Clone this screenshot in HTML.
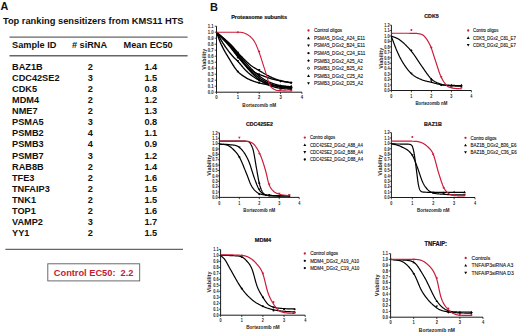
<!DOCTYPE html>
<html><head><meta charset="utf-8"><style>
html,body{margin:0;padding:0;background:#fff;}
svg{display:block;}
text{font-family:"Liberation Sans",sans-serif;}
</style></head><body>
<svg width="520" height="335" viewBox="0 0 520 335" font-family="Liberation Sans, sans-serif">
<rect width="520" height="335" fill="#fff"/>
<text x="0.4" y="9.9" font-weight="bold" font-size="10.8" fill="#111">A</text>
<text x="2.90" y="24.00" font-size="9.3" font-weight="bold" fill="#111">Top ranking sensitizers from KMS11 HTS</text>
<path d="M9.5,37.1H187.6" stroke="#666" stroke-width="1.4"/>
<path d="M9.5,55.8H187.6" stroke="#666" stroke-width="1.4"/>
<text x="12.00" y="47.50" font-size="9.2" font-weight="bold" fill="#111">Sample ID</text>
<text x="71.90" y="47.50" font-size="9.2" font-weight="bold" fill="#111"># siRNA</text>
<text x="123.60" y="47.50" font-size="9.2" font-weight="bold" fill="#111">Mean EC50</text>
<text x="12.00" y="69.50" font-size="9.2" font-weight="bold" fill="#111">BAZ1B</text>
<text x="90.30" y="69.50" font-size="9.2" text-anchor="middle" font-weight="bold" fill="#111">2</text>
<text x="150.80" y="69.50" font-size="9.2" text-anchor="middle" font-weight="bold" fill="#111">1.4</text>
<text x="12.00" y="80.63" font-size="9.2" font-weight="bold" fill="#111">CDC42SE2</text>
<text x="90.30" y="80.63" font-size="9.2" text-anchor="middle" font-weight="bold" fill="#111">3</text>
<text x="150.80" y="80.63" font-size="9.2" text-anchor="middle" font-weight="bold" fill="#111">1.5</text>
<text x="12.00" y="91.76" font-size="9.2" font-weight="bold" fill="#111">CDK5</text>
<text x="90.30" y="91.76" font-size="9.2" text-anchor="middle" font-weight="bold" fill="#111">2</text>
<text x="150.80" y="91.76" font-size="9.2" text-anchor="middle" font-weight="bold" fill="#111">0.8</text>
<text x="12.00" y="102.89" font-size="9.2" font-weight="bold" fill="#111">MDM4</text>
<text x="90.30" y="102.89" font-size="9.2" text-anchor="middle" font-weight="bold" fill="#111">2</text>
<text x="150.80" y="102.89" font-size="9.2" text-anchor="middle" font-weight="bold" fill="#111">1.2</text>
<text x="12.00" y="114.02" font-size="9.2" font-weight="bold" fill="#111">NME7</text>
<text x="90.30" y="114.02" font-size="9.2" text-anchor="middle" font-weight="bold" fill="#111">2</text>
<text x="150.80" y="114.02" font-size="9.2" text-anchor="middle" font-weight="bold" fill="#111">1.3</text>
<text x="12.00" y="125.15" font-size="9.2" font-weight="bold" fill="#111">PSMA5</text>
<text x="90.30" y="125.15" font-size="9.2" text-anchor="middle" font-weight="bold" fill="#111">3</text>
<text x="150.80" y="125.15" font-size="9.2" text-anchor="middle" font-weight="bold" fill="#111">0.8</text>
<text x="12.00" y="136.28" font-size="9.2" font-weight="bold" fill="#111">PSMB2</text>
<text x="90.30" y="136.28" font-size="9.2" text-anchor="middle" font-weight="bold" fill="#111">4</text>
<text x="150.80" y="136.28" font-size="9.2" text-anchor="middle" font-weight="bold" fill="#111">1.1</text>
<text x="12.00" y="147.41" font-size="9.2" font-weight="bold" fill="#111">PSMB3</text>
<text x="90.30" y="147.41" font-size="9.2" text-anchor="middle" font-weight="bold" fill="#111">4</text>
<text x="150.80" y="147.41" font-size="9.2" text-anchor="middle" font-weight="bold" fill="#111">0.9</text>
<text x="12.00" y="158.54" font-size="9.2" font-weight="bold" fill="#111">PSMB7</text>
<text x="90.30" y="158.54" font-size="9.2" text-anchor="middle" font-weight="bold" fill="#111">3</text>
<text x="150.80" y="158.54" font-size="9.2" text-anchor="middle" font-weight="bold" fill="#111">1.2</text>
<text x="12.00" y="169.67" font-size="9.2" font-weight="bold" fill="#111">RAB8B</text>
<text x="90.30" y="169.67" font-size="9.2" text-anchor="middle" font-weight="bold" fill="#111">2</text>
<text x="150.80" y="169.67" font-size="9.2" text-anchor="middle" font-weight="bold" fill="#111">1.4</text>
<text x="12.00" y="180.80" font-size="9.2" font-weight="bold" fill="#111">TFE3</text>
<text x="90.30" y="180.80" font-size="9.2" text-anchor="middle" font-weight="bold" fill="#111">2</text>
<text x="150.80" y="180.80" font-size="9.2" text-anchor="middle" font-weight="bold" fill="#111">1.6</text>
<text x="12.00" y="191.93" font-size="9.2" font-weight="bold" fill="#111">TNFAIP3</text>
<text x="90.30" y="191.93" font-size="9.2" text-anchor="middle" font-weight="bold" fill="#111">2</text>
<text x="150.80" y="191.93" font-size="9.2" text-anchor="middle" font-weight="bold" fill="#111">1.5</text>
<text x="12.00" y="203.06" font-size="9.2" font-weight="bold" fill="#111">TNK1</text>
<text x="90.30" y="203.06" font-size="9.2" text-anchor="middle" font-weight="bold" fill="#111">2</text>
<text x="150.80" y="203.06" font-size="9.2" text-anchor="middle" font-weight="bold" fill="#111">1.5</text>
<text x="12.00" y="214.19" font-size="9.2" font-weight="bold" fill="#111">TOP1</text>
<text x="90.30" y="214.19" font-size="9.2" text-anchor="middle" font-weight="bold" fill="#111">2</text>
<text x="150.80" y="214.19" font-size="9.2" text-anchor="middle" font-weight="bold" fill="#111">1.6</text>
<text x="12.00" y="225.32" font-size="9.2" font-weight="bold" fill="#111">VAMP2</text>
<text x="90.30" y="225.32" font-size="9.2" text-anchor="middle" font-weight="bold" fill="#111">3</text>
<text x="150.80" y="225.32" font-size="9.2" text-anchor="middle" font-weight="bold" fill="#111">1.7</text>
<text x="12.00" y="236.45" font-size="9.2" font-weight="bold" fill="#111">YY1</text>
<text x="90.30" y="236.45" font-size="9.2" text-anchor="middle" font-weight="bold" fill="#111">2</text>
<text x="150.80" y="236.45" font-size="9.2" text-anchor="middle" font-weight="bold" fill="#111">1.5</text>
<path d="M5.4,249.4H183" stroke="#666" stroke-width="1.4"/>
<rect x="47.8" y="263.8" width="91.9" height="17.1" fill="none" stroke="#5a5a5a" stroke-width="0.9"/>
<text x="53.80" y="275.60" font-size="9.25" font-weight="bold" fill="#c01c34">Control EC50:&#160;&#160;2.2</text>
<text x="209.9" y="10.6" font-weight="bold" font-size="11" fill="#111">B</text>
<g transform="translate(259.10,18.50) scale(1,1.1)"><text font-size="5.5" text-anchor="middle" font-weight="bold" fill="#111" stroke="#111" stroke-width="0.18">Proteasome subunits</text></g>
<path d="M216.50,26.20 V92.20 H301.90" fill="none" stroke="#000" stroke-width="0.9"/>
<path d="M214.70,92.20H216.5" stroke="#000" stroke-width="0.7"/>
<g transform="translate(213.70,94.09) scale(1,1.25)"><text font-size="4.2" text-anchor="end" font-weight="bold" fill="#222">0.0</text></g>
<path d="M214.70,86.20H216.5" stroke="#000" stroke-width="0.7"/>
<g transform="translate(213.70,88.09) scale(1,1.25)"><text font-size="4.2" text-anchor="end" font-weight="bold" fill="#222">0.1</text></g>
<path d="M214.70,80.20H216.5" stroke="#000" stroke-width="0.7"/>
<g transform="translate(213.70,82.09) scale(1,1.25)"><text font-size="4.2" text-anchor="end" font-weight="bold" fill="#222">0.2</text></g>
<path d="M214.70,74.20H216.5" stroke="#000" stroke-width="0.7"/>
<g transform="translate(213.70,76.09) scale(1,1.25)"><text font-size="4.2" text-anchor="end" font-weight="bold" fill="#222">0.3</text></g>
<path d="M214.70,68.20H216.5" stroke="#000" stroke-width="0.7"/>
<g transform="translate(213.70,70.09) scale(1,1.25)"><text font-size="4.2" text-anchor="end" font-weight="bold" fill="#222">0.4</text></g>
<path d="M214.70,62.20H216.5" stroke="#000" stroke-width="0.7"/>
<g transform="translate(213.70,64.09) scale(1,1.25)"><text font-size="4.2" text-anchor="end" font-weight="bold" fill="#222">0.5</text></g>
<path d="M214.70,56.20H216.5" stroke="#000" stroke-width="0.7"/>
<g transform="translate(213.70,58.09) scale(1,1.25)"><text font-size="4.2" text-anchor="end" font-weight="bold" fill="#222">0.6</text></g>
<path d="M214.70,50.20H216.5" stroke="#000" stroke-width="0.7"/>
<g transform="translate(213.70,52.09) scale(1,1.25)"><text font-size="4.2" text-anchor="end" font-weight="bold" fill="#222">0.7</text></g>
<path d="M214.70,44.20H216.5" stroke="#000" stroke-width="0.7"/>
<g transform="translate(213.70,46.09) scale(1,1.25)"><text font-size="4.2" text-anchor="end" font-weight="bold" fill="#222">0.8</text></g>
<path d="M214.70,38.20H216.5" stroke="#000" stroke-width="0.7"/>
<g transform="translate(213.70,40.09) scale(1,1.25)"><text font-size="4.2" text-anchor="end" font-weight="bold" fill="#222">0.9</text></g>
<path d="M214.70,32.20H216.5" stroke="#000" stroke-width="0.7"/>
<g transform="translate(213.70,34.09) scale(1,1.25)"><text font-size="4.2" text-anchor="end" font-weight="bold" fill="#222">1.0</text></g>
<path d="M214.70,26.20H216.5" stroke="#000" stroke-width="0.7"/>
<g transform="translate(213.70,28.09) scale(1,1.25)"><text font-size="4.2" text-anchor="end" font-weight="bold" fill="#222">1.1</text></g>
<path d="M216.50,92.2V94.00" stroke="#000" stroke-width="0.7"/>
<g transform="translate(216.50,99.39) scale(1,1.25)"><text font-size="4.2" text-anchor="middle" font-weight="bold" fill="#222">0</text></g>
<path d="M237.85,92.2V94.00" stroke="#000" stroke-width="0.7"/>
<g transform="translate(237.85,99.39) scale(1,1.25)"><text font-size="4.2" text-anchor="middle" font-weight="bold" fill="#222">1</text></g>
<path d="M259.20,92.2V94.00" stroke="#000" stroke-width="0.7"/>
<g transform="translate(259.20,99.39) scale(1,1.25)"><text font-size="4.2" text-anchor="middle" font-weight="bold" fill="#222">2</text></g>
<path d="M280.55,92.2V94.00" stroke="#000" stroke-width="0.7"/>
<g transform="translate(280.55,99.39) scale(1,1.25)"><text font-size="4.2" text-anchor="middle" font-weight="bold" fill="#222">3</text></g>
<path d="M301.90,92.2V94.00" stroke="#000" stroke-width="0.7"/>
<g transform="translate(301.90,99.39) scale(1,1.25)"><text font-size="4.2" text-anchor="middle" font-weight="bold" fill="#222">4</text></g>
<g transform="translate(259.20,106.50) scale(1,1.1)"><text font-size="4.7" text-anchor="middle" font-weight="bold" fill="#222">Bortezomib nM</text></g>
<g transform="translate(206.20,59.30) rotate(-90) scale(1,1.0)"><text font-size="5.5" text-anchor="middle" font-weight="bold" fill="#222">Viability</text></g>
<path d="M216.50,32.20 L216.66,32.63 L216.82,33.06 L216.98,33.49 L217.14,33.93 L217.30,34.36 L217.46,34.80 L217.62,35.24 L217.78,35.68 L217.94,36.12 L218.10,36.56 L218.26,37.00 L218.42,37.44 L218.58,37.88 L218.74,38.31 L218.90,38.74 L219.06,39.17 L219.22,39.59 L219.38,40.01 L219.54,40.42 L219.70,40.83 L219.86,41.23 L220.02,41.63 L220.18,42.02 L220.34,42.40 L220.49,42.75 L220.65,43.10 L220.80,43.45 L220.95,43.79 L221.10,44.12 L221.25,44.46 L221.40,44.78 L221.55,45.11 L221.70,45.43 L221.86,45.74 L222.01,46.06 L222.16,46.37 L222.31,46.67 L222.46,46.98 L222.61,47.28 L222.76,47.58 L222.91,47.87 L223.07,48.17 L223.22,48.46 L223.37,48.75 L223.52,49.04 L223.67,49.33 L223.82,49.61 L223.97,49.90 L224.14,50.22 L224.31,50.53 L224.48,50.84 L224.65,51.14 L224.82,51.45 L224.99,51.74 L225.16,52.04 L225.32,52.33 L225.49,52.62 L225.66,52.91 L225.83,53.20 L226.00,53.48 L226.17,53.77 L226.34,54.05 L226.51,54.33 L226.68,54.60 L226.85,54.88 L227.01,55.16 L227.18,55.43 L227.35,55.71 L227.52,55.98 L227.69,56.25 L227.86,56.53 L228.03,56.80 L228.40,57.41 L228.78,58.02 L229.15,58.64 L229.52,59.26 L229.90,59.89 L230.27,60.51 L230.64,61.14 L231.02,61.76 L231.39,62.38 L231.77,63.00 L232.14,63.61 L232.51,64.21 L232.89,64.81 L233.26,65.40 L233.63,65.98 L234.01,66.56 L234.38,67.11 L234.75,67.66 L235.13,68.19 L235.50,68.71 L235.88,69.21 L236.25,69.69 L236.62,70.16 L237.00,70.60 L237.38,71.04 L237.76,71.45 L238.14,71.85 L238.53,72.24 L238.91,72.61 L239.29,72.97 L239.67,73.31 L240.06,73.64 L240.44,73.95 L240.82,74.26 L241.20,74.56 L241.59,74.84 L241.97,75.12 L242.35,75.39 L242.73,75.65 L243.12,75.90 L243.50,76.15 L243.88,76.40 L244.26,76.64 L244.65,76.87 L245.03,77.11 L245.41,77.34 L245.79,77.57 L246.18,77.80 L246.62,78.06 L247.07,78.32 L247.51,78.56 L247.96,78.80 L248.40,79.03 L248.85,79.25 L249.29,79.46 L249.73,79.67 L250.18,79.87 L250.62,80.07 L251.07,80.25 L251.51,80.43 L251.96,80.61 L252.40,80.78 L252.85,80.95 L253.29,81.11 L253.74,81.27 L254.18,81.43 L254.63,81.58 L255.07,81.73 L255.52,81.87 L255.96,82.02 L256.41,82.16 L256.85,82.30 L257.39,82.47 L257.94,82.63 L258.48,82.78 L259.02,82.93 L259.56,83.07 L260.11,83.20 L260.65,83.33 L261.19,83.45 L261.74,83.57 L262.28,83.69 L262.82,83.80 L263.36,83.90 L263.91,84.00 L264.45,84.10 L264.99,84.20 L265.53,84.29 L266.08,84.39 L266.62,84.48 L267.16,84.57 L267.70,84.65 L268.25,84.74 L268.79,84.83 L269.33,84.91 L269.88,85.00 L270.32,85.07 L270.76,85.14 L271.21,85.20 L271.65,85.27 L272.10,85.33 L272.54,85.39 L272.99,85.44 L273.43,85.50 L273.88,85.55 L274.32,85.60 L274.77,85.65 L275.21,85.70 L275.66,85.75 L276.10,85.79 L276.55,85.84 L276.99,85.88 L277.44,85.92 L277.88,85.97 L278.33,86.01 L278.77,86.05 L279.22,86.09 L279.66,86.12 L280.11,86.16 L280.55,86.20 L280.99,86.24 L281.44,86.27 L281.88,86.30 L282.33,86.33 L282.77,86.36 L283.22,86.39 L283.66,86.42 L284.11,86.44 L284.55,86.47 L285.00,86.49 L285.44,86.52 L285.89,86.54 L286.33,86.56 L286.78,86.58 L287.22,86.60 L287.67,86.62 L288.11,86.64 L288.56,86.66 L289.00,86.69 L289.45,86.71 L289.89,86.73 L290.34,86.75 L290.78,86.78 L291.23,86.80" fill="none" stroke="#000" stroke-width="1.35" stroke-linejoin="round"/>
<path d="M237.85,69.95 L239.10,72.14 L236.60,72.14Z" fill="#000"/>
<path d="M259.20,81.35 L260.45,83.54 L257.95,83.54Z" fill="#000"/>
<path d="M280.55,84.95 L281.80,87.14 L279.30,87.14Z" fill="#000"/>
<path d="M291.23,85.55 L292.48,87.74 L289.98,87.74Z" fill="#000"/>
<path d="M216.50,32.20 L216.85,32.78 L217.19,33.36 L217.54,33.95 L217.89,34.54 L218.23,35.13 L218.58,35.73 L218.93,36.32 L219.28,36.92 L219.62,37.52 L219.97,38.11 L220.32,38.71 L220.66,39.30 L221.01,39.89 L221.36,40.48 L221.70,41.06 L222.05,41.64 L222.40,42.21 L222.74,42.78 L223.09,43.33 L223.44,43.89 L223.79,44.43 L224.13,44.96 L224.48,45.49 L224.83,46.00 L225.20,46.54 L225.57,47.08 L225.95,47.61 L226.32,48.14 L226.69,48.65 L227.07,49.16 L227.44,49.67 L227.82,50.17 L228.19,50.66 L228.56,51.15 L228.94,51.63 L229.31,52.10 L229.68,52.57 L230.06,53.04 L230.43,53.50 L230.80,53.95 L231.18,54.40 L231.55,54.84 L231.93,55.28 L232.30,55.71 L232.67,56.14 L233.05,56.57 L233.42,56.99 L233.79,57.40 L233.93,57.54 L234.06,57.69 L234.19,57.82 L234.33,57.95 L234.46,58.08 L234.59,58.21 L234.73,58.33 L234.86,58.46 L234.99,58.58 L235.13,58.69 L235.26,58.81 L235.39,58.93 L235.53,59.04 L235.66,59.16 L235.80,59.28 L235.93,59.39 L236.06,59.51 L236.20,59.63 L236.33,59.75 L236.46,59.88 L236.60,60.00 L236.73,60.13 L236.86,60.26 L237.00,60.40 L237.37,60.79 L237.74,61.20 L238.12,61.61 L238.49,62.03 L238.86,62.46 L239.24,62.89 L239.61,63.33 L239.99,63.78 L240.36,64.22 L240.73,64.67 L241.11,65.12 L241.48,65.58 L241.85,66.02 L242.23,66.47 L242.60,66.92 L242.97,67.36 L243.35,67.79 L243.72,68.22 L244.09,68.64 L244.47,69.05 L244.84,69.46 L245.22,69.85 L245.59,70.23 L245.96,70.60 L246.34,70.96 L246.71,71.31 L247.08,71.66 L247.46,72.01 L247.83,72.34 L248.20,72.68 L248.58,73.00 L248.95,73.33 L249.33,73.64 L249.70,73.95 L250.07,74.26 L250.45,74.56 L250.82,74.86 L251.19,75.15 L251.57,75.44 L251.94,75.72 L252.31,75.99 L252.69,76.27 L253.06,76.53 L253.44,76.80 L253.81,77.05 L254.18,77.31 L254.56,77.56 L254.93,77.80 L255.29,78.03 L255.64,78.25 L256.00,78.46 L256.35,78.67 L256.71,78.87 L257.06,79.06 L257.42,79.26 L257.78,79.44 L258.13,79.62 L258.49,79.80 L258.84,79.97 L259.20,80.14 L259.56,80.31 L259.91,80.47 L260.27,80.63 L260.62,80.79 L260.98,80.94 L261.34,81.10 L261.69,81.25 L262.05,81.40 L262.40,81.55 L262.76,81.70 L263.11,81.85 L263.47,82.00 L263.83,82.15 L264.18,82.30 L264.54,82.44 L264.89,82.58 L265.25,82.72 L265.61,82.86 L265.96,83.00 L266.32,83.13 L266.67,83.27 L267.03,83.40 L267.38,83.52 L267.74,83.65 L268.10,83.77 L268.45,83.90 L268.81,84.02 L269.16,84.13 L269.52,84.25 L269.88,84.36 L270.23,84.47 L270.59,84.58 L270.94,84.69 L271.30,84.80 L271.65,84.90 L272.01,85.00 L272.37,85.10 L272.72,85.19 L273.08,85.29 L273.43,85.38 L273.79,85.46 L274.14,85.55 L274.50,85.63 L274.86,85.71 L275.21,85.79 L275.57,85.87 L275.92,85.94 L276.28,86.01 L276.64,86.08 L276.99,86.15 L277.35,86.22 L277.70,86.29 L278.06,86.36 L278.42,86.42 L278.77,86.48 L279.13,86.55 L279.48,86.61 L279.84,86.67 L280.19,86.74 L280.55,86.80 L280.99,86.88 L281.44,86.95 L281.88,87.02 L282.33,87.09 L282.77,87.16 L283.22,87.23 L283.66,87.29 L284.11,87.36 L284.55,87.42 L285.00,87.48 L285.44,87.54 L285.89,87.60 L286.33,87.66 L286.78,87.71 L287.22,87.77 L287.67,87.83 L288.11,87.89 L288.56,87.94 L289.00,88.00 L289.45,88.06 L289.89,88.12 L290.34,88.18 L290.78,88.24 L291.23,88.30" fill="none" stroke="#000" stroke-width="1.35" stroke-linejoin="round"/>
<path d="M237.85,62.25 L239.10,60.06 L236.60,60.06Z" fill="#000"/>
<path d="M259.20,81.45 L260.45,79.26 L257.95,79.26Z" fill="#000"/>
<path d="M280.55,88.05 L281.80,85.86 L279.30,85.86Z" fill="#000"/>
<path d="M291.23,89.55 L292.48,87.36 L289.98,87.36Z" fill="#000"/>
<path d="M216.50,32.20 L217.03,32.77 L217.57,33.34 L218.10,33.91 L218.63,34.47 L219.17,35.03 L219.70,35.59 L220.24,36.15 L220.77,36.71 L221.30,37.27 L221.84,37.83 L222.37,38.39 L222.91,38.95 L223.44,39.51 L223.97,40.08 L224.51,40.65 L225.04,41.22 L225.57,41.80 L226.11,42.38 L226.64,42.97 L227.18,43.56 L227.71,44.16 L228.24,44.77 L228.78,45.38 L229.31,46.00 L229.67,46.42 L230.02,46.85 L230.38,47.28 L230.73,47.72 L231.09,48.17 L231.44,48.62 L231.80,49.07 L232.16,49.53 L232.51,49.99 L232.87,50.45 L233.22,50.92 L233.58,51.38 L233.94,51.85 L234.29,52.31 L234.65,52.78 L235.00,53.24 L235.36,53.70 L235.72,54.16 L236.07,54.61 L236.43,55.06 L236.78,55.50 L237.14,55.94 L237.49,56.37 L237.85,56.80 L238.19,57.20 L238.53,57.60 L238.86,58.01 L239.20,58.41 L239.54,58.81 L239.88,59.21 L240.22,59.61 L240.55,60.01 L240.89,60.40 L241.23,60.79 L241.57,61.18 L241.91,61.57 L242.24,61.95 L242.58,62.33 L242.92,62.70 L243.26,63.07 L243.60,63.43 L243.93,63.79 L244.27,64.14 L244.61,64.49 L244.95,64.83 L245.29,65.16 L245.62,65.48 L245.96,65.80 L246.34,66.14 L246.71,66.48 L247.08,66.80 L247.46,67.13 L247.83,67.44 L248.20,67.75 L248.58,68.05 L248.95,68.35 L249.33,68.64 L249.70,68.93 L250.07,69.21 L250.45,69.49 L250.82,69.76 L251.19,70.02 L251.57,70.28 L251.94,70.53 L252.31,70.78 L252.69,71.03 L253.06,71.27 L253.44,71.50 L253.81,71.73 L254.18,71.96 L254.56,72.18 L254.93,72.40 L255.29,72.60 L255.64,72.80 L256.00,72.98 L256.35,73.16 L256.71,73.34 L257.06,73.50 L257.42,73.66 L257.78,73.82 L258.13,73.97 L258.49,74.12 L258.84,74.26 L259.20,74.41 L259.56,74.54 L259.91,74.68 L260.27,74.81 L260.62,74.94 L260.98,75.07 L261.34,75.21 L261.69,75.34 L262.05,75.47 L262.40,75.60 L262.76,75.73 L263.11,75.86 L263.47,76.00 L263.83,76.14 L264.18,76.27 L264.54,76.41 L264.89,76.55 L265.25,76.68 L265.61,76.82 L265.96,76.96 L266.32,77.09 L266.67,77.22 L267.03,77.35 L267.38,77.48 L267.74,77.61 L268.10,77.74 L268.45,77.87 L268.81,77.99 L269.16,78.11 L269.52,78.23 L269.88,78.35 L270.23,78.46 L270.59,78.58 L270.94,78.69 L271.30,78.79 L271.65,78.90 L272.01,79.00 L272.37,79.10 L272.72,79.19 L273.08,79.28 L273.43,79.37 L273.79,79.46 L274.14,79.54 L274.50,79.62 L274.86,79.70 L275.21,79.78 L275.57,79.85 L275.92,79.93 L276.28,80.00 L276.64,80.07 L276.99,80.14 L277.35,80.20 L277.70,80.27 L278.06,80.34 L278.42,80.40 L278.77,80.47 L279.13,80.53 L279.48,80.60 L279.84,80.67 L280.19,80.73 L280.55,80.80 L280.99,80.88 L281.44,80.97 L281.88,81.05 L282.33,81.13 L282.77,81.20 L283.22,81.28 L283.66,81.36 L284.11,81.43 L284.55,81.51 L285.00,81.58 L285.44,81.66 L285.89,81.73 L286.33,81.80 L286.78,81.87 L287.22,81.94 L287.67,82.02 L288.11,82.09 L288.56,82.16 L289.00,82.23 L289.45,82.31 L289.89,82.38 L290.34,82.45 L290.78,82.53 L291.23,82.60" fill="none" stroke="#000" stroke-width="1.35" stroke-linejoin="round"/>
<circle cx="237.85" cy="57.40" r="1.00" fill="#000"/>
<circle cx="259.20" cy="74.20" r="1.00" fill="#000"/>
<circle cx="280.55" cy="80.80" r="1.00" fill="#000"/>
<circle cx="291.23" cy="82.60" r="1.00" fill="#000"/>
<path d="M216.50,32.20 L217.13,32.77 L217.76,33.34 L218.39,33.89 L219.03,34.45 L219.66,35.00 L220.29,35.54 L220.92,36.09 L221.55,36.63 L222.18,37.17 L222.82,37.72 L223.45,38.26 L224.08,38.81 L224.71,39.37 L225.34,39.92 L225.97,40.49 L226.61,41.06 L227.24,41.64 L227.87,42.23 L228.50,42.82 L229.13,43.43 L229.76,44.06 L230.40,44.69 L231.03,45.34 L231.66,46.00 L232.05,46.42 L232.44,46.85 L232.83,47.29 L233.22,47.74 L233.62,48.20 L234.01,48.67 L234.40,49.14 L234.79,49.62 L235.18,50.10 L235.57,50.59 L235.96,51.08 L236.36,51.57 L236.75,52.07 L237.14,52.57 L237.53,53.06 L237.92,53.56 L238.31,54.05 L238.70,54.54 L239.10,55.03 L239.49,55.52 L239.88,56.00 L240.27,56.47 L240.66,56.94 L241.05,57.40 L241.36,57.76 L241.68,58.13 L241.99,58.49 L242.30,58.85 L242.61,59.21 L242.92,59.56 L243.23,59.92 L243.54,60.28 L243.85,60.63 L244.17,60.98 L244.48,61.33 L244.79,61.69 L245.10,62.04 L245.41,62.38 L245.72,62.73 L246.03,63.08 L246.35,63.42 L246.66,63.76 L246.97,64.11 L247.28,64.45 L247.59,64.79 L247.90,65.13 L248.21,65.46 L248.53,65.80 L248.79,66.09 L249.06,66.38 L249.33,66.66 L249.59,66.95 L249.86,67.24 L250.13,67.53 L250.39,67.82 L250.66,68.11 L250.93,68.39 L251.19,68.68 L251.46,68.96 L251.73,69.24 L251.99,69.52 L252.26,69.80 L252.53,70.07 L252.80,70.34 L253.06,70.61 L253.33,70.88 L253.60,71.14 L253.86,71.40 L254.13,71.66 L254.40,71.91 L254.66,72.16 L254.93,72.40 L255.29,72.72 L255.64,73.03 L256.00,73.35 L256.35,73.66 L256.71,73.96 L257.06,74.26 L257.42,74.56 L257.78,74.85 L258.13,75.14 L258.49,75.43 L258.84,75.71 L259.20,75.99 L259.56,76.26 L259.91,76.53 L260.27,76.80 L260.62,77.06 L260.98,77.32 L261.34,77.57 L261.69,77.82 L262.05,78.06 L262.40,78.30 L262.76,78.54 L263.11,78.77 L263.47,79.00 L263.83,79.22 L264.18,79.44 L264.54,79.65 L264.89,79.86 L265.25,80.06 L265.61,80.26 L265.96,80.45 L266.32,80.64 L266.67,80.83 L267.03,81.01 L267.38,81.19 L267.74,81.36 L268.10,81.53 L268.45,81.70 L268.81,81.86 L269.16,82.02 L269.52,82.18 L269.88,82.33 L270.23,82.48 L270.59,82.63 L270.94,82.78 L271.30,82.92 L271.65,83.06 L272.01,83.20 L272.37,83.34 L272.72,83.47 L273.08,83.60 L273.43,83.72 L273.79,83.84 L274.14,83.96 L274.50,84.08 L274.86,84.19 L275.21,84.30 L275.57,84.40 L275.92,84.50 L276.28,84.60 L276.64,84.70 L276.99,84.79 L277.35,84.88 L277.70,84.97 L278.06,85.06 L278.42,85.14 L278.77,85.22 L279.13,85.30 L279.48,85.38 L279.84,85.46 L280.19,85.53 L280.55,85.60 L280.99,85.68 L281.44,85.76 L281.88,85.84 L282.33,85.90 L282.77,85.97 L283.22,86.03 L283.66,86.08 L284.11,86.13 L284.55,86.18 L285.00,86.23 L285.44,86.27 L285.89,86.31 L286.33,86.35 L286.78,86.39 L287.22,86.43 L287.67,86.47 L288.11,86.50 L288.56,86.54 L289.00,86.58 L289.45,86.62 L289.89,86.66 L290.34,86.71 L290.78,86.75 L291.23,86.80" fill="none" stroke="#000" stroke-width="1.35" stroke-linejoin="round"/>
<path d="M237.85,52.00 L239.05,53.20 L237.85,54.40 L236.65,53.20Z" fill="#000"/>
<path d="M259.20,74.80 L260.40,76.00 L259.20,77.20 L258.00,76.00Z" fill="#000"/>
<path d="M280.55,84.40 L281.75,85.60 L280.55,86.80 L279.35,85.60Z" fill="#000"/>
<path d="M291.23,85.00 L292.43,86.20 L291.23,87.40 L290.03,86.20Z" fill="#000"/>
<path d="M216.50,32.20 L217.08,32.77 L217.66,33.34 L218.23,33.91 L218.81,34.47 L219.39,35.03 L219.97,35.58 L220.55,36.14 L221.13,36.70 L221.70,37.25 L222.28,37.81 L222.86,38.37 L223.44,38.93 L224.02,39.49 L224.60,40.05 L225.17,40.62 L225.75,41.19 L226.33,41.77 L226.91,42.35 L227.49,42.94 L228.06,43.54 L228.64,44.14 L229.22,44.75 L229.80,45.37 L230.38,46.00 L230.73,46.39 L231.09,46.79 L231.44,47.19 L231.80,47.60 L232.16,48.01 L232.51,48.42 L232.87,48.84 L233.22,49.26 L233.58,49.68 L233.94,50.11 L234.29,50.53 L234.65,50.96 L235.00,51.40 L235.36,51.83 L235.72,52.27 L236.07,52.70 L236.43,53.14 L236.78,53.58 L237.14,54.02 L237.49,54.45 L237.85,54.89 L238.21,55.33 L238.56,55.76 L238.92,56.20 L239.32,56.69 L239.72,57.19 L240.12,57.70 L240.52,58.21 L240.92,58.72 L241.32,59.24 L241.72,59.76 L242.12,60.29 L242.52,60.81 L242.92,61.33 L243.32,61.86 L243.72,62.38 L244.12,62.90 L244.52,63.41 L244.92,63.92 L245.32,64.43 L245.72,64.93 L246.12,65.42 L246.52,65.91 L246.92,66.39 L247.32,66.86 L247.72,67.32 L248.12,67.76 L248.53,68.20 L248.97,68.67 L249.41,69.14 L249.86,69.60 L250.30,70.06 L250.75,70.51 L251.19,70.95 L251.64,71.38 L252.08,71.81 L252.53,72.23 L252.97,72.65 L253.42,73.06 L253.86,73.46 L254.31,73.85 L254.75,74.24 L255.20,74.63 L255.64,75.00 L256.09,75.38 L256.53,75.74 L256.98,76.10 L257.42,76.45 L257.87,76.80 L258.31,77.14 L258.76,77.47 L259.20,77.80 L259.64,78.12 L260.09,78.44 L260.53,78.74 L260.98,79.04 L261.42,79.34 L261.87,79.62 L262.31,79.90 L262.76,80.18 L263.20,80.45 L263.65,80.71 L264.09,80.96 L264.54,81.21 L264.98,81.46 L265.43,81.69 L265.87,81.93 L266.32,82.16 L266.76,82.38 L267.21,82.60 L267.65,82.81 L268.10,83.02 L268.54,83.22 L268.99,83.42 L269.43,83.61 L269.88,83.80 L270.32,83.98 L270.76,84.16 L271.21,84.33 L271.65,84.49 L272.10,84.65 L272.54,84.80 L272.99,84.95 L273.43,85.09 L273.88,85.22 L274.32,85.35 L274.77,85.48 L275.21,85.60 L275.66,85.72 L276.10,85.83 L276.55,85.94 L276.99,86.04 L277.44,86.15 L277.88,86.25 L278.33,86.34 L278.77,86.44 L279.22,86.53 L279.66,86.62 L280.11,86.71 L280.55,86.80 L280.99,86.88 L281.44,86.96 L281.88,87.04 L282.33,87.10 L282.77,87.17 L283.22,87.23 L283.66,87.28 L284.11,87.33 L284.55,87.38 L285.00,87.43 L285.44,87.47 L285.89,87.51 L286.33,87.55 L286.78,87.59 L287.22,87.63 L287.67,87.67 L288.11,87.70 L288.56,87.74 L289.00,87.78 L289.45,87.82 L289.89,87.86 L290.34,87.91 L290.78,87.95 L291.23,88.00" fill="none" stroke="#000" stroke-width="1.35" stroke-linejoin="round"/>
<circle cx="237.85" cy="55.00" r="0.90" fill="none" stroke="#000" stroke-width="0.7"/>
<circle cx="259.20" cy="79.00" r="0.90" fill="none" stroke="#000" stroke-width="0.7"/>
<circle cx="280.55" cy="87.40" r="0.90" fill="none" stroke="#000" stroke-width="0.7"/>
<circle cx="291.23" cy="88.00" r="0.90" fill="none" stroke="#000" stroke-width="0.7"/>
<path d="M216.50,32.20 L217.03,32.75 L217.57,33.29 L218.10,33.83 L218.63,34.37 L219.17,34.90 L219.70,35.43 L220.24,35.97 L220.77,36.50 L221.30,37.03 L221.84,37.56 L222.37,38.09 L222.91,38.62 L223.44,39.16 L223.97,39.70 L224.51,40.24 L225.04,40.79 L225.57,41.35 L226.11,41.90 L226.64,42.47 L227.18,43.04 L227.71,43.62 L228.24,44.20 L228.78,44.80 L229.31,45.40 L229.71,45.86 L230.11,46.33 L230.51,46.80 L230.91,47.28 L231.31,47.76 L231.71,48.25 L232.11,48.75 L232.51,49.24 L232.91,49.75 L233.31,50.25 L233.71,50.76 L234.11,51.27 L234.51,51.78 L234.91,52.29 L235.31,52.81 L235.72,53.32 L236.12,53.84 L236.52,54.35 L236.92,54.86 L237.32,55.38 L237.72,55.89 L238.12,56.39 L238.52,56.90 L238.92,57.40 L239.32,57.90 L239.72,58.41 L240.12,58.92 L240.52,59.43 L240.92,59.95 L241.32,60.47 L241.72,60.98 L242.12,61.50 L242.52,62.02 L242.92,62.54 L243.32,63.06 L243.72,63.58 L244.12,64.09 L244.52,64.60 L244.92,65.11 L245.32,65.61 L245.72,66.11 L246.12,66.60 L246.52,67.08 L246.92,67.56 L247.32,68.03 L247.72,68.50 L248.12,68.95 L248.53,69.40 L248.97,69.89 L249.41,70.37 L249.86,70.85 L250.30,71.33 L250.75,71.80 L251.19,72.27 L251.64,72.73 L252.08,73.19 L252.53,73.64 L252.97,74.08 L253.42,74.52 L253.86,74.96 L254.31,75.39 L254.75,75.81 L255.20,76.22 L255.64,76.63 L256.09,77.03 L256.53,77.42 L256.98,77.80 L257.42,78.18 L257.87,78.55 L258.31,78.91 L258.76,79.26 L259.20,79.60 L259.64,79.93 L260.09,80.26 L260.53,80.57 L260.98,80.88 L261.42,81.18 L261.87,81.47 L262.31,81.76 L262.76,82.03 L263.20,82.30 L263.65,82.56 L264.09,82.82 L264.54,83.07 L264.98,83.31 L265.43,83.55 L265.87,83.78 L266.32,84.00 L266.76,84.22 L267.21,84.43 L267.65,84.64 L268.10,84.84 L268.54,85.04 L268.99,85.23 L269.43,85.42 L269.88,85.60 L270.32,85.78 L270.76,85.95 L271.21,86.11 L271.65,86.26 L272.10,86.41 L272.54,86.55 L272.99,86.68 L273.43,86.81 L273.88,86.93 L274.32,87.05 L274.77,87.16 L275.21,87.27 L275.66,87.37 L276.10,87.47 L276.55,87.56 L276.99,87.66 L277.44,87.74 L277.88,87.83 L278.33,87.91 L278.77,87.99 L279.22,88.07 L279.66,88.15 L280.11,88.22 L280.55,88.30 L280.99,88.37 L281.44,88.44 L281.88,88.50 L282.33,88.55 L282.77,88.61 L283.22,88.65 L283.66,88.69 L284.11,88.73 L284.55,88.77 L285.00,88.80 L285.44,88.83 L285.89,88.86 L286.33,88.89 L286.78,88.92 L287.22,88.94 L287.67,88.97 L288.11,88.99 L288.56,89.02 L289.00,89.04 L289.45,89.07 L289.89,89.10 L290.34,89.13 L290.78,89.16 L291.23,89.20" fill="none" stroke="#000" stroke-width="1.35" stroke-linejoin="round"/>
<path d="M237.85,54.95 L239.10,57.14 L236.60,57.14Z" fill="#000"/>
<path d="M259.20,78.95 L260.45,81.14 L257.95,81.14Z" fill="#000"/>
<path d="M280.55,87.35 L281.80,89.54 L279.30,89.54Z" fill="#000"/>
<path d="M291.23,87.95 L292.48,90.14 L289.98,90.14Z" fill="#000"/>
<path d="M216.50,32.20 L217.12,32.75 L217.75,33.29 L218.37,33.83 L218.99,34.36 L219.61,34.89 L220.24,35.42 L220.86,35.94 L221.48,36.47 L222.10,36.99 L222.73,37.52 L223.35,38.05 L223.97,38.58 L224.60,39.11 L225.22,39.64 L225.84,40.19 L226.46,40.73 L227.09,41.29 L227.71,41.85 L228.33,42.41 L228.95,42.99 L229.58,43.58 L230.20,44.17 L230.82,44.78 L231.44,45.40 L231.80,45.76 L232.16,46.13 L232.51,46.51 L232.87,46.90 L233.22,47.29 L233.58,47.69 L233.94,48.09 L234.29,48.50 L234.65,48.91 L235.00,49.33 L235.36,49.74 L235.72,50.16 L236.07,50.58 L236.43,51.00 L236.78,51.42 L237.14,51.83 L237.49,52.24 L237.85,52.65 L238.21,53.06 L238.56,53.46 L238.92,53.85 L239.27,54.24 L239.63,54.63 L239.99,55.00 L240.43,55.46 L240.87,55.92 L241.32,56.38 L241.76,56.84 L242.21,57.30 L242.65,57.76 L243.10,58.21 L243.54,58.66 L243.99,59.11 L244.43,59.55 L244.88,59.99 L245.32,60.43 L245.77,60.86 L246.21,61.29 L246.66,61.71 L247.10,62.12 L247.55,62.53 L247.99,62.93 L248.44,63.33 L248.88,63.72 L249.33,64.10 L249.77,64.48 L250.22,64.84 L250.66,65.20 L251.02,65.48 L251.37,65.75 L251.73,66.01 L252.08,66.27 L252.44,66.52 L252.80,66.76 L253.15,67.00 L253.51,67.23 L253.86,67.45 L254.22,67.68 L254.57,67.89 L254.93,68.11 L255.29,68.32 L255.64,68.53 L256.00,68.74 L256.35,68.95 L256.71,69.15 L257.06,69.36 L257.42,69.56 L257.78,69.77 L258.13,69.97 L258.49,70.18 L258.84,70.39 L259.20,70.60 L259.64,70.87 L260.09,71.13 L260.53,71.40 L260.98,71.66 L261.42,71.93 L261.87,72.19 L262.31,72.46 L262.76,72.72 L263.20,72.98 L263.65,73.24 L264.09,73.50 L264.54,73.76 L264.98,74.01 L265.43,74.27 L265.87,74.51 L266.32,74.76 L266.76,75.00 L267.21,75.24 L267.65,75.48 L268.10,75.71 L268.54,75.94 L268.99,76.17 L269.43,76.39 L269.88,76.60 L270.32,76.81 L270.76,77.02 L271.21,77.23 L271.65,77.43 L272.10,77.63 L272.54,77.83 L272.99,78.02 L273.43,78.21 L273.88,78.40 L274.32,78.58 L274.77,78.77 L275.21,78.94 L275.66,79.12 L276.10,79.29 L276.55,79.46 L276.99,79.62 L277.44,79.78 L277.88,79.94 L278.33,80.09 L278.77,80.24 L279.22,80.39 L279.66,80.53 L280.11,80.67 L280.55,80.80 L280.99,80.93 L281.44,81.05 L281.88,81.16 L282.33,81.27 L282.77,81.37 L283.22,81.47 L283.66,81.57 L284.11,81.66 L284.55,81.74 L285.00,81.82 L285.44,81.90 L285.89,81.98 L286.33,82.06 L286.78,82.13 L287.22,82.20 L287.67,82.28 L288.11,82.35 L288.56,82.42 L289.00,82.50 L289.45,82.57 L289.89,82.65 L290.34,82.73 L290.78,82.81 L291.23,82.90" fill="none" stroke="#000" stroke-width="1.35" stroke-linejoin="round"/>
<path d="M237.85,53.85 L239.10,51.66 L236.60,51.66Z" fill="#000"/>
<path d="M259.20,71.25 L260.45,69.06 L257.95,69.06Z" fill="#000"/>
<path d="M280.55,82.65 L281.80,80.46 L279.30,80.46Z" fill="#000"/>
<path d="M291.23,84.45 L292.48,82.26 L289.98,82.26Z" fill="#000"/>
<path d="M216.50,32.20 L217.39,32.20 L218.28,32.20 L219.17,32.20 L220.06,32.20 L220.95,32.20 L221.84,32.20 L222.73,32.20 L223.62,32.20 L224.51,32.20 L225.40,32.20 L226.29,32.20 L227.18,32.20 L228.06,32.20 L228.95,32.20 L229.84,32.20 L230.73,32.20 L231.62,32.20 L232.51,32.20 L233.40,32.20 L234.29,32.20 L235.18,32.20 L236.07,32.20 L236.96,32.20 L237.85,32.20 L238.12,32.20 L238.38,32.20 L238.65,32.21 L238.92,32.21 L239.18,32.22 L239.45,32.23 L239.72,32.24 L239.99,32.26 L240.25,32.27 L240.52,32.30 L240.79,32.32 L241.05,32.35 L241.32,32.38 L241.59,32.42 L241.85,32.46 L242.12,32.51 L242.39,32.56 L242.65,32.62 L242.92,32.69 L243.19,32.76 L243.45,32.83 L243.72,32.91 L243.99,33.00 L244.25,33.10 L244.52,33.20 L244.79,33.31 L245.06,33.42 L245.32,33.53 L245.59,33.64 L245.86,33.77 L246.12,33.89 L246.39,34.02 L246.66,34.16 L246.92,34.30 L247.19,34.45 L247.46,34.60 L247.72,34.76 L247.99,34.93 L248.26,35.10 L248.53,35.28 L248.79,35.46 L249.06,35.66 L249.33,35.86 L249.59,36.07 L249.86,36.29 L250.13,36.52 L250.39,36.75 L250.66,37.00 L250.84,37.17 L251.02,37.34 L251.19,37.51 L251.37,37.68 L251.55,37.86 L251.73,38.04 L251.91,38.23 L252.08,38.41 L252.26,38.61 L252.44,38.81 L252.62,39.01 L252.80,39.23 L252.97,39.44 L253.15,39.67 L253.33,39.90 L253.51,40.14 L253.68,40.39 L253.86,40.65 L254.04,40.91 L254.22,41.19 L254.40,41.48 L254.57,41.77 L254.75,42.08 L254.93,42.40 L255.11,42.73 L255.29,43.07 L255.46,43.43 L255.64,43.79 L255.82,44.16 L256.00,44.55 L256.18,44.94 L256.35,45.34 L256.53,45.75 L256.71,46.17 L256.89,46.59 L257.06,47.03 L257.24,47.46 L257.42,47.91 L257.60,48.36 L257.78,48.81 L257.95,49.28 L258.13,49.74 L258.31,50.21 L258.49,50.68 L258.67,51.16 L258.84,51.64 L259.02,52.12 L259.20,52.60 L259.41,53.19 L259.63,53.78 L259.84,54.39 L260.05,55.01 L260.27,55.63 L260.48,56.27 L260.69,56.91 L260.91,57.55 L261.12,58.21 L261.34,58.87 L261.55,59.53 L261.76,60.20 L261.98,60.87 L262.19,61.54 L262.40,62.21 L262.62,62.88 L262.83,63.56 L263.04,64.23 L263.26,64.90 L263.47,65.57 L263.68,66.23 L263.90,66.89 L264.11,67.55 L264.32,68.20 L264.56,68.91 L264.79,69.64 L265.02,70.39 L265.25,71.14 L265.48,71.91 L265.71,72.68 L265.94,73.46 L266.17,74.24 L266.41,75.03 L266.64,75.81 L266.87,76.58 L267.10,77.34 L267.33,78.10 L267.56,78.84 L267.79,79.57 L268.02,80.28 L268.26,80.97 L268.49,81.63 L268.72,82.27 L268.95,82.88 L269.18,83.47 L269.41,84.01 L269.64,84.53 L269.88,85.00 L270.10,85.42 L270.32,85.81 L270.54,86.17 L270.76,86.51 L270.99,86.81 L271.21,87.10 L271.43,87.36 L271.65,87.60 L271.88,87.82 L272.10,88.02 L272.32,88.21 L272.54,88.38 L272.77,88.53 L272.99,88.68 L273.21,88.81 L273.43,88.94 L273.66,89.06 L273.88,89.17 L274.10,89.28 L274.32,89.38 L274.55,89.48 L274.77,89.59 L274.99,89.69 L275.21,89.80 L275.43,89.91 L275.66,90.00 L275.88,90.09 L276.10,90.16 L276.32,90.23 L276.55,90.29 L276.77,90.35 L276.99,90.39 L277.21,90.44 L277.44,90.47 L277.66,90.50 L277.88,90.53 L278.10,90.55 L278.33,90.57 L278.55,90.59 L278.77,90.60 L278.99,90.61 L279.22,90.62 L279.44,90.63 L279.66,90.65 L279.88,90.66 L280.11,90.67 L280.33,90.68 L280.55,90.70 L280.99,90.73 L281.44,90.76 L281.88,90.79 L282.33,90.82 L282.77,90.84 L283.22,90.86 L283.66,90.87 L284.11,90.89 L284.55,90.90 L285.00,90.91 L285.44,90.92 L285.89,90.92 L286.33,90.93 L286.78,90.94 L287.22,90.94 L287.67,90.95 L288.11,90.95 L288.56,90.96 L289.00,90.96 L289.45,90.97 L289.89,90.97 L290.34,90.98 L290.78,90.99 L291.23,91.00" fill="none" stroke="#cc1c3a" stroke-width="1.1" stroke-linejoin="round"/>
<circle cx="237.85" cy="32.20" r="1.00" fill="#cc1c3a"/>
<circle cx="259.20" cy="51.40" r="1.00" fill="#cc1c3a"/>
<circle cx="269.88" cy="85.00" r="1.00" fill="#cc1c3a"/>
<circle cx="280.55" cy="89.80" r="1.00" fill="#cc1c3a"/>
<circle cx="291.23" cy="90.40" r="1.00" fill="#cc1c3a"/>
<circle cx="308.50" cy="30.50" r="1.15" fill="#cc1c3a"/>
<g transform="translate(313.90,32.33) scale(1,1.1)"><text font-size="4.62" fill="#111" stroke="#111" stroke-width="0.1">Control oligos</text></g>
<path d="M308.50,36.61 L309.94,39.13 L307.06,39.13Z" fill="#000"/>
<g transform="translate(313.90,39.88) scale(1,1.1)"><text font-size="4.62" fill="#111" stroke="#111" stroke-width="0.1">PSMA5_DGx2_A24_E11</text></g>
<path d="M308.50,47.04 L309.94,44.52 L307.06,44.52Z" fill="#000"/>
<g transform="translate(313.90,47.43) scale(1,1.1)"><text font-size="4.62" fill="#111" stroke="#111" stroke-width="0.1">PSMA5_DGx2_B24_E11</text></g>
<circle cx="308.50" cy="53.15" r="1.15" fill="#000"/>
<g transform="translate(313.90,54.98) scale(1,1.1)"><text font-size="4.62" fill="#111" stroke="#111" stroke-width="0.1">PSMA5_DGx2_C24_E11</text></g>
<path d="M308.50,59.32 L309.88,60.70 L308.50,62.08 L307.12,60.70Z" fill="#000"/>
<g transform="translate(313.90,62.53) scale(1,1.1)"><text font-size="4.62" fill="#111" stroke="#111" stroke-width="0.1">PSMB3_DGx2_A25_A2</text></g>
<circle cx="308.50" cy="68.25" r="1.03" fill="none" stroke="#000" stroke-width="0.7"/>
<g transform="translate(313.90,70.08) scale(1,1.1)"><text font-size="4.62" fill="#111" stroke="#111" stroke-width="0.1">PSMB3_DGx2_B25_A2</text></g>
<path d="M308.50,74.36 L309.94,76.88 L307.06,76.88Z" fill="#000"/>
<g transform="translate(313.90,77.63) scale(1,1.1)"><text font-size="4.62" fill="#111" stroke="#111" stroke-width="0.1">PSMB3_DGx2_C25_A2</text></g>
<path d="M308.50,84.79 L309.94,82.27 L307.06,82.27Z" fill="#000"/>
<g transform="translate(313.90,85.18) scale(1,1.1)"><text font-size="4.62" fill="#111" stroke="#111" stroke-width="0.1">PSMB3_DGx2_D25_A2</text></g>
<g transform="translate(431.50,18.30) scale(1,1.1)"><text font-size="5.3" text-anchor="middle" font-weight="bold" fill="#111" stroke="#111" stroke-width="0.18">CDK5</text></g>
<path d="M391.40,25.10 V90.50 H471.40" fill="none" stroke="#000" stroke-width="0.9"/>
<path d="M389.60,90.50H391.4" stroke="#000" stroke-width="0.7"/>
<g transform="translate(389.50,92.21) scale(1,1.25)"><text font-size="3.8" text-anchor="end" font-weight="bold" fill="#222">0.0</text></g>
<path d="M389.60,85.05H391.4" stroke="#000" stroke-width="0.7"/>
<g transform="translate(389.50,86.76) scale(1,1.25)"><text font-size="3.8" text-anchor="end" font-weight="bold" fill="#222">0.1</text></g>
<path d="M389.60,79.60H391.4" stroke="#000" stroke-width="0.7"/>
<g transform="translate(389.50,81.31) scale(1,1.25)"><text font-size="3.8" text-anchor="end" font-weight="bold" fill="#222">0.2</text></g>
<path d="M389.60,74.15H391.4" stroke="#000" stroke-width="0.7"/>
<g transform="translate(389.50,75.86) scale(1,1.25)"><text font-size="3.8" text-anchor="end" font-weight="bold" fill="#222">0.3</text></g>
<path d="M389.60,68.70H391.4" stroke="#000" stroke-width="0.7"/>
<g transform="translate(389.50,70.41) scale(1,1.25)"><text font-size="3.8" text-anchor="end" font-weight="bold" fill="#222">0.4</text></g>
<path d="M389.60,63.25H391.4" stroke="#000" stroke-width="0.7"/>
<g transform="translate(389.50,64.96) scale(1,1.25)"><text font-size="3.8" text-anchor="end" font-weight="bold" fill="#222">0.5</text></g>
<path d="M389.60,57.80H391.4" stroke="#000" stroke-width="0.7"/>
<g transform="translate(389.50,59.51) scale(1,1.25)"><text font-size="3.8" text-anchor="end" font-weight="bold" fill="#222">0.6</text></g>
<path d="M389.60,52.35H391.4" stroke="#000" stroke-width="0.7"/>
<g transform="translate(389.50,54.06) scale(1,1.25)"><text font-size="3.8" text-anchor="end" font-weight="bold" fill="#222">0.7</text></g>
<path d="M389.60,46.90H391.4" stroke="#000" stroke-width="0.7"/>
<g transform="translate(389.50,48.61) scale(1,1.25)"><text font-size="3.8" text-anchor="end" font-weight="bold" fill="#222">0.8</text></g>
<path d="M389.60,41.45H391.4" stroke="#000" stroke-width="0.7"/>
<g transform="translate(389.50,43.16) scale(1,1.25)"><text font-size="3.8" text-anchor="end" font-weight="bold" fill="#222">0.9</text></g>
<path d="M389.60,36.00H391.4" stroke="#000" stroke-width="0.7"/>
<g transform="translate(389.50,37.71) scale(1,1.25)"><text font-size="3.8" text-anchor="end" font-weight="bold" fill="#222">1.0</text></g>
<path d="M389.60,30.55H391.4" stroke="#000" stroke-width="0.7"/>
<g transform="translate(389.50,32.26) scale(1,1.25)"><text font-size="3.8" text-anchor="end" font-weight="bold" fill="#222">1.1</text></g>
<path d="M389.60,25.10H391.4" stroke="#000" stroke-width="0.7"/>
<g transform="translate(389.50,26.81) scale(1,1.25)"><text font-size="3.8" text-anchor="end" font-weight="bold" fill="#222">1.2</text></g>
<path d="M391.40,90.5V92.30" stroke="#000" stroke-width="0.7"/>
<g transform="translate(391.40,97.51) scale(1,1.25)"><text font-size="3.8" text-anchor="middle" font-weight="bold" fill="#222">0</text></g>
<path d="M411.40,90.5V92.30" stroke="#000" stroke-width="0.7"/>
<g transform="translate(411.40,97.51) scale(1,1.25)"><text font-size="3.8" text-anchor="middle" font-weight="bold" fill="#222">1</text></g>
<path d="M431.40,90.5V92.30" stroke="#000" stroke-width="0.7"/>
<g transform="translate(431.40,97.51) scale(1,1.25)"><text font-size="3.8" text-anchor="middle" font-weight="bold" fill="#222">2</text></g>
<path d="M451.40,90.5V92.30" stroke="#000" stroke-width="0.7"/>
<g transform="translate(451.40,97.51) scale(1,1.25)"><text font-size="3.8" text-anchor="middle" font-weight="bold" fill="#222">3</text></g>
<path d="M471.40,90.5V92.30" stroke="#000" stroke-width="0.7"/>
<g transform="translate(471.40,97.51) scale(1,1.25)"><text font-size="3.8" text-anchor="middle" font-weight="bold" fill="#222">4</text></g>
<g transform="translate(431.40,104.50) scale(1,1.1)"><text font-size="4.45" text-anchor="middle" font-weight="bold" fill="#222">Bortezomib nM</text></g>
<g transform="translate(382.80,58.30) rotate(-90) scale(1,1.0)"><text font-size="5.5" text-anchor="middle" font-weight="bold" fill="#222">Viability</text></g>
<path d="M391.40,36.00 L391.74,36.16 L392.08,36.30 L392.42,36.45 L392.77,36.59 L393.11,36.72 L393.45,36.86 L393.79,36.99 L394.13,37.12 L394.47,37.25 L394.82,37.38 L395.16,37.51 L395.50,37.65 L395.84,37.79 L396.18,37.93 L396.52,38.08 L396.87,38.24 L397.21,38.40 L397.55,38.57 L397.89,38.75 L398.23,38.94 L398.57,39.14 L398.92,39.35 L399.26,39.58 L399.60,39.81 L400.09,40.17 L400.58,40.54 L401.07,40.92 L401.57,41.31 L402.06,41.72 L402.55,42.13 L403.04,42.55 L403.53,42.98 L404.02,43.43 L404.52,43.88 L405.01,44.34 L405.50,44.82 L405.99,45.30 L406.48,45.80 L406.97,46.30 L407.47,46.81 L407.96,47.34 L408.45,47.87 L408.94,48.41 L409.43,48.96 L409.92,49.52 L410.42,50.09 L410.91,50.67 L411.40,51.26 L411.84,51.80 L412.28,52.36 L412.72,52.94 L413.17,53.53 L413.61,54.13 L414.05,54.75 L414.49,55.38 L414.93,56.02 L415.38,56.67 L415.82,57.32 L416.26,57.98 L416.70,58.65 L417.14,59.32 L417.58,59.99 L418.02,60.66 L418.47,61.33 L418.91,62.00 L419.35,62.67 L419.79,63.33 L420.23,63.98 L420.67,64.63 L421.12,65.27 L421.56,65.90 L422.00,66.52 L422.39,67.07 L422.78,67.62 L423.17,68.19 L423.57,68.76 L423.96,69.33 L424.35,69.90 L424.74,70.48 L425.13,71.06 L425.52,71.63 L425.92,72.20 L426.31,72.77 L426.70,73.33 L427.09,73.88 L427.48,74.43 L427.88,74.96 L428.27,75.48 L428.66,75.99 L429.05,76.48 L429.44,76.96 L429.83,77.42 L430.22,77.86 L430.62,78.28 L431.01,78.68 L431.40,79.06 L431.82,79.43 L432.23,79.79 L432.65,80.12 L433.07,80.44 L433.48,80.74 L433.90,81.02 L434.32,81.29 L434.73,81.54 L435.15,81.77 L435.57,82.00 L435.98,82.21 L436.40,82.41 L436.82,82.60 L437.23,82.78 L437.65,82.95 L438.07,83.11 L438.48,83.27 L438.90,83.42 L439.32,83.56 L439.73,83.70 L440.15,83.84 L440.57,83.97 L440.98,84.10 L441.40,84.23 L441.82,84.36 L442.23,84.47 L442.65,84.57 L443.07,84.66 L443.48,84.74 L443.90,84.81 L444.32,84.87 L444.73,84.93 L445.15,84.98 L445.57,85.02 L445.98,85.05 L446.40,85.08 L446.82,85.11 L447.23,85.13 L447.65,85.15 L448.07,85.17 L448.48,85.19 L448.90,85.20 L449.32,85.22 L449.73,85.24 L450.15,85.25 L450.57,85.27 L450.98,85.30 L451.40,85.32 L451.82,85.35 L452.23,85.37 L452.65,85.40 L453.07,85.42 L453.48,85.43 L453.90,85.45 L454.32,85.46 L454.73,85.47 L455.15,85.48 L455.57,85.49 L455.98,85.50 L456.40,85.51 L456.82,85.52 L457.23,85.52 L457.65,85.53 L458.07,85.53 L458.48,85.54 L458.90,85.55 L459.32,85.55 L459.73,85.56 L460.15,85.57 L460.57,85.57 L460.98,85.58 L461.40,85.59" fill="none" stroke="#000" stroke-width="1.2" stroke-linejoin="round"/>
<path d="M411.40,48.92 L412.65,51.11 L410.15,51.11Z" fill="#000"/>
<path d="M431.40,77.81 L432.65,79.99 L430.15,79.99Z" fill="#000"/>
<path d="M441.40,83.80 L442.65,85.99 L440.15,85.99Z" fill="#000"/>
<path d="M451.40,83.80 L452.65,85.99 L450.15,85.99Z" fill="#000"/>
<path d="M461.40,83.80 L462.65,85.99 L460.15,85.99Z" fill="#000"/>
<path d="M391.40,36.55 L391.62,37.12 L391.83,37.69 L392.05,38.27 L392.27,38.85 L392.48,39.44 L392.70,40.03 L392.92,40.62 L393.13,41.21 L393.35,41.80 L393.57,42.39 L393.78,42.97 L394.00,43.56 L394.22,44.14 L394.43,44.72 L394.65,45.30 L394.87,45.87 L395.08,46.43 L395.30,46.99 L395.52,47.54 L395.73,48.09 L395.95,48.62 L396.17,49.15 L396.38,49.66 L396.60,50.17 L396.85,50.74 L397.10,51.31 L397.35,51.88 L397.60,52.43 L397.85,52.98 L398.10,53.53 L398.35,54.07 L398.60,54.60 L398.85,55.12 L399.10,55.64 L399.35,56.15 L399.60,56.66 L399.85,57.16 L400.10,57.65 L400.35,58.13 L400.60,58.61 L400.85,59.08 L401.10,59.54 L401.35,60.00 L401.60,60.45 L401.85,60.89 L402.10,61.32 L402.35,61.74 L402.60,62.16 L402.97,62.76 L403.33,63.35 L403.70,63.93 L404.07,64.49 L404.43,65.05 L404.80,65.60 L405.17,66.13 L405.53,66.66 L405.90,67.17 L406.27,67.68 L406.63,68.17 L407.00,68.65 L407.37,69.12 L407.73,69.58 L408.10,70.03 L408.47,70.47 L408.83,70.90 L409.20,71.32 L409.57,71.73 L409.93,72.13 L410.30,72.51 L410.67,72.89 L411.03,73.25 L411.40,73.61 L411.82,73.99 L412.23,74.36 L412.65,74.71 L413.07,75.05 L413.48,75.37 L413.90,75.67 L414.32,75.97 L414.73,76.24 L415.15,76.51 L415.57,76.77 L415.98,77.01 L416.40,77.25 L416.82,77.47 L417.23,77.69 L417.65,77.90 L418.07,78.10 L418.48,78.30 L418.90,78.50 L419.32,78.68 L419.73,78.87 L420.15,79.06 L420.57,79.24 L420.98,79.42 L421.40,79.60 L421.82,79.78 L422.23,79.94 L422.65,80.10 L423.07,80.25 L423.48,80.39 L423.90,80.52 L424.32,80.64 L424.73,80.76 L425.15,80.87 L425.57,80.98 L425.98,81.08 L426.40,81.18 L426.82,81.28 L427.23,81.37 L427.65,81.47 L428.07,81.56 L428.48,81.65 L428.90,81.74 L429.32,81.83 L429.73,81.92 L430.15,82.02 L430.57,82.12 L430.98,82.22 L431.40,82.33 L431.82,82.43 L432.23,82.54 L432.65,82.65 L433.07,82.77 L433.48,82.88 L433.90,82.99 L434.32,83.10 L434.73,83.21 L435.15,83.32 L435.57,83.44 L435.98,83.54 L436.40,83.65 L436.82,83.76 L437.23,83.87 L437.65,83.97 L438.07,84.07 L438.48,84.17 L438.90,84.27 L439.32,84.36 L439.73,84.45 L440.15,84.54 L440.57,84.62 L440.98,84.70 L441.40,84.78 L441.82,84.85 L442.23,84.92 L442.65,84.98 L443.07,85.05 L443.48,85.11 L443.90,85.16 L444.32,85.22 L444.73,85.27 L445.15,85.32 L445.57,85.37 L445.98,85.42 L446.40,85.46 L446.82,85.50 L447.23,85.54 L447.65,85.58 L448.07,85.62 L448.48,85.65 L448.90,85.68 L449.32,85.72 L449.73,85.75 L450.15,85.78 L450.57,85.81 L450.98,85.84 L451.40,85.87 L451.82,85.89 L452.23,85.92 L452.65,85.94 L453.07,85.96 L453.48,85.98 L453.90,85.99 L454.32,86.01 L454.73,86.02 L455.15,86.03 L455.57,86.04 L455.98,86.05 L456.40,86.05 L456.82,86.06 L457.23,86.07 L457.65,86.07 L458.07,86.08 L458.48,86.09 L458.90,86.09 L459.32,86.10 L459.73,86.10 L460.15,86.11 L460.57,86.12 L460.98,86.13 L461.40,86.14" fill="none" stroke="#000" stroke-width="1.2" stroke-linejoin="round"/>
<path d="M411.40,74.86 L412.65,72.67 L410.15,72.67Z" fill="#000"/>
<path d="M431.40,82.48 L432.65,80.30 L430.15,80.30Z" fill="#000"/>
<path d="M441.40,86.30 L442.65,84.11 L440.15,84.11Z" fill="#000"/>
<path d="M451.40,87.94 L452.65,85.75 L450.15,85.75Z" fill="#000"/>
<path d="M461.40,87.94 L462.65,85.75 L460.15,85.75Z" fill="#000"/>
<path d="M391.40,33.27 L392.23,33.28 L393.07,33.27 L393.90,33.27 L394.73,33.27 L395.57,33.27 L396.40,33.27 L397.23,33.27 L398.07,33.27 L398.90,33.27 L399.73,33.27 L400.57,33.27 L401.40,33.27 L402.23,33.27 L403.07,33.27 L403.90,33.27 L404.73,33.27 L405.57,33.27 L406.40,33.27 L407.23,33.27 L408.07,33.27 L408.90,33.27 L409.73,33.28 L410.57,33.28 L411.40,33.27 L411.82,33.28 L412.23,33.28 L412.65,33.28 L413.07,33.28 L413.48,33.28 L413.90,33.29 L414.32,33.30 L414.73,33.32 L415.15,33.33 L415.57,33.35 L415.98,33.38 L416.40,33.41 L416.82,33.45 L417.23,33.49 L417.65,33.54 L418.07,33.60 L418.48,33.66 L418.90,33.73 L419.32,33.82 L419.73,33.91 L420.15,34.01 L420.57,34.11 L420.98,34.23 L421.40,34.37 L421.76,34.50 L422.12,34.66 L422.47,34.85 L422.83,35.07 L423.19,35.32 L423.55,35.59 L423.91,35.90 L424.27,36.23 L424.62,36.59 L424.98,36.97 L425.34,37.38 L425.70,37.82 L426.06,38.28 L426.42,38.77 L426.77,39.29 L427.13,39.83 L427.49,40.39 L427.85,40.98 L428.21,41.59 L428.57,42.22 L428.92,42.88 L429.28,43.56 L429.64,44.27 L430.00,44.99 L430.22,45.47 L430.45,45.98 L430.67,46.51 L430.90,47.06 L431.12,47.64 L431.35,48.25 L431.57,48.87 L431.80,49.50 L432.02,50.15 L432.25,50.82 L432.47,51.50 L432.70,52.19 L432.92,52.88 L433.15,53.58 L433.38,54.29 L433.60,55.00 L433.82,55.70 L434.05,56.41 L434.27,57.12 L434.50,57.82 L434.72,58.51 L434.95,59.19 L435.17,59.86 L435.40,60.52 L435.62,61.16 L435.83,61.81 L436.05,62.47 L436.27,63.13 L436.48,63.81 L436.70,64.48 L436.92,65.17 L437.13,65.85 L437.35,66.53 L437.57,67.22 L437.78,67.90 L438.00,68.58 L438.22,69.25 L438.43,69.91 L438.65,70.56 L438.87,71.21 L439.08,71.84 L439.30,72.46 L439.52,73.06 L439.73,73.65 L439.95,74.21 L440.17,74.76 L440.38,75.28 L440.60,75.78 L440.86,76.36 L441.12,76.92 L441.38,77.46 L441.63,77.98 L441.89,78.49 L442.15,78.99 L442.41,79.47 L442.67,79.93 L442.92,80.38 L443.18,80.81 L443.44,81.24 L443.70,81.64 L443.96,82.04 L444.22,82.42 L444.47,82.79 L444.73,83.14 L444.99,83.49 L445.25,83.82 L445.51,84.14 L445.77,84.45 L446.02,84.75 L446.28,85.04 L446.54,85.32 L446.80,85.59 L446.99,85.78 L447.18,85.96 L447.38,86.12 L447.57,86.27 L447.76,86.41 L447.95,86.54 L448.14,86.65 L448.33,86.76 L448.52,86.86 L448.72,86.95 L448.91,87.03 L449.10,87.11 L449.29,87.18 L449.48,87.24 L449.67,87.30 L449.87,87.36 L450.06,87.42 L450.25,87.47 L450.44,87.52 L450.63,87.57 L450.82,87.62 L451.02,87.67 L451.21,87.72 L451.40,87.78 L451.82,87.89 L452.23,87.99 L452.65,88.09 L453.07,88.17 L453.48,88.24 L453.90,88.30 L454.32,88.36 L454.73,88.41 L455.15,88.45 L455.57,88.49 L455.98,88.52 L456.40,88.55 L456.82,88.57 L457.23,88.60 L457.65,88.62 L458.07,88.64 L458.48,88.66 L458.90,88.68 L459.32,88.70 L459.73,88.73 L460.15,88.75 L460.57,88.79 L460.98,88.82 L461.40,88.86" fill="none" stroke="#cc1c3a" stroke-width="1.2" stroke-linejoin="round"/>
<circle cx="411.40" cy="30.00" r="1.00" fill="#cc1c3a"/>
<circle cx="431.40" cy="47.45" r="1.00" fill="#cc1c3a"/>
<circle cx="441.40" cy="76.88" r="1.00" fill="#cc1c3a"/>
<circle cx="451.40" cy="87.23" r="1.00" fill="#cc1c3a"/>
<circle cx="461.40" cy="87.78" r="1.00" fill="#cc1c3a"/>
<circle cx="468.20" cy="30.50" r="1.15" fill="#cc1c3a"/>
<g transform="translate(473.10,32.21) scale(1,1.1)"><text font-size="4.31" fill="#111" stroke="#111" stroke-width="0.1">Contro oligos</text></g>
<path d="M468.20,36.36 L469.64,38.88 L466.76,38.88Z" fill="#000"/>
<g transform="translate(473.10,39.51) scale(1,1.1)"><text font-size="4.31" fill="#111" stroke="#111" stroke-width="0.1">CDK5_DGx2_C81_E7</text></g>
<path d="M468.20,46.54 L469.64,44.02 L466.76,44.02Z" fill="#000"/>
<g transform="translate(473.10,46.81) scale(1,1.1)"><text font-size="4.31" fill="#111" stroke="#111" stroke-width="0.1">CDK5_DGx2_D81_E7</text></g>
<g transform="translate(259.50,125.60) scale(1,1.1)"><text font-size="5.2" text-anchor="middle" font-weight="bold" fill="#111" stroke="#111" stroke-width="0.18">CDC42SE2</text></g>
<path d="M219.40,132.84 V197.40 H299.20" fill="none" stroke="#000" stroke-width="0.9"/>
<path d="M217.60,197.40H219.4" stroke="#000" stroke-width="0.7"/>
<g transform="translate(217.50,199.11) scale(1,1.25)"><text font-size="3.8" text-anchor="end" font-weight="bold" fill="#222">0.0</text></g>
<path d="M217.60,192.02H219.4" stroke="#000" stroke-width="0.7"/>
<g transform="translate(217.50,193.73) scale(1,1.25)"><text font-size="3.8" text-anchor="end" font-weight="bold" fill="#222">0.1</text></g>
<path d="M217.60,186.64H219.4" stroke="#000" stroke-width="0.7"/>
<g transform="translate(217.50,188.35) scale(1,1.25)"><text font-size="3.8" text-anchor="end" font-weight="bold" fill="#222">0.2</text></g>
<path d="M217.60,181.26H219.4" stroke="#000" stroke-width="0.7"/>
<g transform="translate(217.50,182.97) scale(1,1.25)"><text font-size="3.8" text-anchor="end" font-weight="bold" fill="#222">0.3</text></g>
<path d="M217.60,175.88H219.4" stroke="#000" stroke-width="0.7"/>
<g transform="translate(217.50,177.59) scale(1,1.25)"><text font-size="3.8" text-anchor="end" font-weight="bold" fill="#222">0.4</text></g>
<path d="M217.60,170.50H219.4" stroke="#000" stroke-width="0.7"/>
<g transform="translate(217.50,172.21) scale(1,1.25)"><text font-size="3.8" text-anchor="end" font-weight="bold" fill="#222">0.5</text></g>
<path d="M217.60,165.12H219.4" stroke="#000" stroke-width="0.7"/>
<g transform="translate(217.50,166.83) scale(1,1.25)"><text font-size="3.8" text-anchor="end" font-weight="bold" fill="#222">0.6</text></g>
<path d="M217.60,159.74H219.4" stroke="#000" stroke-width="0.7"/>
<g transform="translate(217.50,161.45) scale(1,1.25)"><text font-size="3.8" text-anchor="end" font-weight="bold" fill="#222">0.7</text></g>
<path d="M217.60,154.36H219.4" stroke="#000" stroke-width="0.7"/>
<g transform="translate(217.50,156.07) scale(1,1.25)"><text font-size="3.8" text-anchor="end" font-weight="bold" fill="#222">0.8</text></g>
<path d="M217.60,148.98H219.4" stroke="#000" stroke-width="0.7"/>
<g transform="translate(217.50,150.69) scale(1,1.25)"><text font-size="3.8" text-anchor="end" font-weight="bold" fill="#222">0.9</text></g>
<path d="M217.60,143.60H219.4" stroke="#000" stroke-width="0.7"/>
<g transform="translate(217.50,145.31) scale(1,1.25)"><text font-size="3.8" text-anchor="end" font-weight="bold" fill="#222">1.0</text></g>
<path d="M217.60,138.22H219.4" stroke="#000" stroke-width="0.7"/>
<g transform="translate(217.50,139.93) scale(1,1.25)"><text font-size="3.8" text-anchor="end" font-weight="bold" fill="#222">1.1</text></g>
<path d="M217.60,132.84H219.4" stroke="#000" stroke-width="0.7"/>
<g transform="translate(217.50,134.55) scale(1,1.25)"><text font-size="3.8" text-anchor="end" font-weight="bold" fill="#222">1.2</text></g>
<path d="M219.40,197.4V199.20" stroke="#000" stroke-width="0.7"/>
<g transform="translate(219.40,204.61) scale(1,1.25)"><text font-size="3.8" text-anchor="middle" font-weight="bold" fill="#222">0</text></g>
<path d="M239.35,197.4V199.20" stroke="#000" stroke-width="0.7"/>
<g transform="translate(239.35,204.61) scale(1,1.25)"><text font-size="3.8" text-anchor="middle" font-weight="bold" fill="#222">1</text></g>
<path d="M259.30,197.4V199.20" stroke="#000" stroke-width="0.7"/>
<g transform="translate(259.30,204.61) scale(1,1.25)"><text font-size="3.8" text-anchor="middle" font-weight="bold" fill="#222">2</text></g>
<path d="M279.25,197.4V199.20" stroke="#000" stroke-width="0.7"/>
<g transform="translate(279.25,204.61) scale(1,1.25)"><text font-size="3.8" text-anchor="middle" font-weight="bold" fill="#222">3</text></g>
<path d="M299.20,197.4V199.20" stroke="#000" stroke-width="0.7"/>
<g transform="translate(299.20,204.61) scale(1,1.25)"><text font-size="3.8" text-anchor="middle" font-weight="bold" fill="#222">4</text></g>
<g transform="translate(259.30,211.70) scale(1,1.1)"><text font-size="4.45" text-anchor="middle" font-weight="bold" fill="#222">Bortezomib nM</text></g>
<g transform="translate(210.90,165.20) rotate(-90) scale(1,1.0)"><text font-size="5.5" text-anchor="middle" font-weight="bold" fill="#222">Viability</text></g>
<path d="M219.40,141.07 L220.23,141.07 L221.06,141.07 L221.89,141.07 L222.72,141.07 L223.56,141.07 L224.39,141.07 L225.22,141.07 L226.05,141.07 L226.88,141.07 L227.71,141.07 L228.54,141.07 L229.38,141.07 L230.21,141.07 L231.04,141.07 L231.87,141.07 L232.70,141.07 L233.53,141.07 L234.36,141.07 L235.19,141.07 L236.03,141.07 L236.86,141.07 L237.69,141.07 L238.52,141.07 L239.35,141.07 L239.72,141.07 L240.10,141.07 L240.47,141.07 L240.85,141.07 L241.22,141.07 L241.59,141.08 L241.97,141.08 L242.34,141.09 L242.72,141.09 L243.09,141.10 L243.46,141.11 L243.84,141.12 L244.21,141.13 L244.59,141.15 L244.96,141.16 L245.34,141.18 L245.71,141.21 L246.08,141.23 L246.46,141.26 L246.83,141.29 L247.21,141.32 L247.58,141.36 L247.95,141.40 L248.33,141.45 L248.45,141.47 L248.58,141.51 L248.70,141.56 L248.83,141.63 L248.95,141.72 L249.08,141.81 L249.20,141.92 L249.32,142.04 L249.45,142.17 L249.57,142.32 L249.70,142.47 L249.82,142.64 L249.95,142.81 L250.07,143.00 L250.20,143.19 L250.32,143.39 L250.45,143.60 L250.57,143.81 L250.70,144.03 L250.82,144.26 L250.95,144.49 L251.07,144.73 L251.20,144.97 L251.32,145.21 L251.40,145.38 L251.49,145.54 L251.57,145.71 L251.65,145.88 L251.74,146.05 L251.82,146.22 L251.90,146.40 L251.99,146.58 L252.07,146.77 L252.15,146.96 L252.23,147.16 L252.32,147.37 L252.40,147.58 L252.48,147.80 L252.57,148.03 L252.65,148.27 L252.73,148.52 L252.82,148.78 L252.90,149.05 L252.98,149.33 L253.07,149.63 L253.15,149.94 L253.23,150.26 L253.31,150.59 L253.44,151.12 L253.56,151.68 L253.69,152.27 L253.81,152.88 L253.94,153.52 L254.06,154.18 L254.19,154.85 L254.31,155.54 L254.44,156.25 L254.56,156.97 L254.69,157.70 L254.81,158.44 L254.94,159.19 L255.06,159.94 L255.19,160.70 L255.31,161.45 L255.43,162.21 L255.56,162.96 L255.68,163.70 L255.81,164.44 L255.93,165.17 L256.06,165.88 L256.18,166.59 L256.31,167.27 L256.44,168.00 L256.57,168.74 L256.71,169.50 L256.84,170.25 L256.97,171.02 L257.11,171.79 L257.24,172.56 L257.37,173.33 L257.50,174.11 L257.64,174.87 L257.77,175.63 L257.90,176.39 L258.04,177.14 L258.17,177.87 L258.30,178.59 L258.44,179.30 L258.57,179.99 L258.70,180.67 L258.83,181.32 L258.97,181.95 L259.10,182.56 L259.23,183.14 L259.37,183.69 L259.50,184.22 L259.66,184.81 L259.82,185.38 L259.97,185.93 L260.13,186.45 L260.29,186.95 L260.45,187.43 L260.61,187.89 L260.76,188.33 L260.92,188.75 L261.08,189.15 L261.24,189.54 L261.39,189.90 L261.55,190.25 L261.71,190.58 L261.87,190.90 L262.03,191.20 L262.18,191.48 L262.34,191.75 L262.50,192.01 L262.66,192.25 L262.82,192.48 L262.97,192.70 L263.13,192.90 L263.29,193.10 L263.54,193.38 L263.79,193.64 L264.04,193.88 L264.29,194.09 L264.54,194.29 L264.79,194.46 L265.04,194.61 L265.29,194.75 L265.53,194.87 L265.78,194.97 L266.03,195.07 L266.28,195.14 L266.53,195.21 L266.78,195.26 L267.03,195.31 L267.28,195.35 L267.53,195.38 L267.78,195.41 L268.03,195.43 L268.28,195.45 L268.53,195.46 L268.78,195.48 L269.03,195.50 L269.27,195.52 L269.69,195.55 L270.11,195.58 L270.52,195.61 L270.94,195.63 L271.35,195.65 L271.77,195.67 L272.18,195.69 L272.60,195.71 L273.02,195.72 L273.43,195.73 L273.85,195.74 L274.26,195.75 L274.68,195.76 L275.09,195.77 L275.51,195.77 L275.93,195.78 L276.34,195.78 L276.76,195.78 L277.17,195.78 L277.59,195.78 L278.00,195.79 L278.42,195.79 L278.83,195.79 L279.25,195.79 L279.67,195.79 L280.08,195.79 L280.50,195.79 L280.91,195.79 L281.33,195.79 L281.74,195.79 L282.16,195.79 L282.57,195.79 L282.99,195.79 L283.41,195.79 L283.82,195.79 L284.24,195.79 L284.65,195.79 L285.07,195.79 L285.48,195.79 L285.90,195.79 L286.32,195.79 L286.73,195.79 L287.15,195.79 L287.56,195.79 L287.98,195.79 L288.39,195.79 L288.81,195.79 L289.23,195.79" fill="none" stroke="#000" stroke-width="1.2" stroke-linejoin="round"/>
<path d="M259.30,181.62 L260.55,183.81 L258.05,183.81Z" fill="#000"/>
<path d="M269.27,194.00 L270.52,196.19 L268.02,196.19Z" fill="#000"/>
<path d="M279.25,194.54 L280.50,196.72 L278.00,196.72Z" fill="#000"/>
<path d="M289.23,194.54 L290.48,196.72 L287.98,196.72Z" fill="#000"/>
<path d="M219.40,144.14 L219.82,144.16 L220.23,144.18 L220.65,144.19 L221.06,144.20 L221.48,144.22 L221.89,144.23 L222.31,144.24 L222.72,144.25 L223.14,144.26 L223.56,144.27 L223.97,144.28 L224.39,144.29 L224.80,144.31 L225.22,144.32 L225.63,144.34 L226.05,144.36 L226.47,144.39 L226.88,144.42 L227.30,144.45 L227.71,144.48 L228.13,144.52 L228.54,144.57 L228.96,144.62 L229.38,144.68 L229.79,144.73 L230.21,144.78 L230.62,144.82 L231.04,144.86 L231.45,144.89 L231.87,144.92 L232.28,144.96 L232.70,145.00 L233.12,145.04 L233.53,145.09 L233.95,145.14 L234.36,145.21 L234.78,145.28 L235.19,145.37 L235.61,145.48 L236.03,145.60 L236.44,145.74 L236.86,145.90 L237.27,146.08 L237.69,146.28 L238.10,146.51 L238.52,146.77 L238.93,147.05 L239.35,147.37 L239.72,147.67 L240.10,148.00 L240.47,148.34 L240.85,148.69 L241.22,149.07 L241.59,149.47 L241.97,149.88 L242.34,150.32 L242.72,150.77 L243.09,151.25 L243.46,151.74 L243.84,152.26 L244.21,152.80 L244.59,153.36 L244.96,153.94 L245.34,154.55 L245.71,155.18 L246.08,155.83 L246.46,156.51 L246.83,157.21 L247.21,157.94 L247.58,158.69 L247.95,159.47 L248.33,160.28 L248.60,160.90 L248.88,161.56 L249.15,162.25 L249.42,162.98 L249.70,163.74 L249.97,164.52 L250.25,165.32 L250.52,166.15 L250.80,166.99 L251.07,167.85 L251.34,168.72 L251.62,169.60 L251.89,170.48 L252.17,171.36 L252.44,172.24 L252.72,173.12 L252.99,173.99 L253.27,174.86 L253.54,175.70 L253.81,176.54 L254.09,177.35 L254.36,178.14 L254.64,178.91 L254.91,179.65 L255.09,180.13 L255.28,180.61 L255.46,181.10 L255.64,181.58 L255.83,182.07 L256.01,182.55 L256.19,183.03 L256.37,183.50 L256.56,183.97 L256.74,184.43 L256.92,184.89 L257.11,185.34 L257.29,185.78 L257.47,186.22 L257.65,186.64 L257.84,187.05 L258.02,187.46 L258.20,187.84 L258.39,188.22 L258.57,188.58 L258.75,188.93 L258.93,189.26 L259.12,189.57 L259.30,189.87 L259.55,190.25 L259.80,190.61 L260.05,190.94 L260.30,191.26 L260.55,191.55 L260.80,191.83 L261.05,192.09 L261.30,192.34 L261.54,192.56 L261.79,192.78 L262.04,192.97 L262.29,193.16 L262.54,193.33 L262.79,193.50 L263.04,193.65 L263.29,193.79 L263.54,193.93 L263.79,194.05 L264.04,194.17 L264.29,194.29 L264.54,194.40 L264.79,194.50 L265.04,194.61 L265.29,194.71 L265.62,194.84 L265.95,194.96 L266.28,195.07 L266.62,195.16 L266.95,195.25 L267.28,195.33 L267.61,195.40 L267.94,195.47 L268.28,195.52 L268.61,195.57 L268.94,195.61 L269.27,195.65 L269.61,195.68 L269.94,195.71 L270.27,195.73 L270.61,195.75 L270.94,195.76 L271.27,195.77 L271.60,195.78 L271.94,195.78 L272.27,195.78 L272.60,195.79 L272.93,195.79 L273.26,195.79 L273.93,195.79 L274.60,195.79 L275.26,195.79 L275.93,195.79 L276.59,195.79 L277.25,195.79 L277.92,195.79 L278.59,195.79 L279.25,195.79 L279.92,195.79 L280.58,195.79 L281.25,195.79 L281.91,195.79 L282.57,195.79 L283.24,195.79 L283.90,195.79 L284.57,195.79 L285.24,195.79 L285.90,195.79 L286.56,195.79 L287.23,195.79 L287.89,195.79 L288.56,195.79 L289.23,195.79" fill="none" stroke="#000" stroke-width="1.2" stroke-linejoin="round"/>
<path d="M239.35,148.62 L240.60,146.43 L238.10,146.43Z" fill="#000"/>
<path d="M259.30,190.58 L260.55,188.39 L258.05,188.39Z" fill="#000"/>
<path d="M269.27,196.50 L270.52,194.31 L268.02,194.31Z" fill="#000"/>
<path d="M289.23,197.04 L290.48,194.85 L287.98,194.85Z" fill="#000"/>
<path d="M219.40,144.14 L219.73,144.18 L220.06,144.21 L220.40,144.24 L220.73,144.26 L221.06,144.28 L221.40,144.30 L221.73,144.32 L222.06,144.33 L222.39,144.35 L222.72,144.37 L223.06,144.39 L223.39,144.41 L223.72,144.44 L224.06,144.47 L224.39,144.51 L224.72,144.55 L225.05,144.60 L225.39,144.66 L225.72,144.72 L226.05,144.80 L226.38,144.89 L226.72,144.98 L227.05,145.09 L227.38,145.21 L227.63,145.31 L227.88,145.42 L228.13,145.54 L228.38,145.66 L228.63,145.79 L228.88,145.93 L229.13,146.08 L229.38,146.23 L229.62,146.39 L229.87,146.56 L230.12,146.73 L230.37,146.91 L230.62,147.10 L230.87,147.29 L231.12,147.49 L231.37,147.70 L231.62,147.91 L231.87,148.12 L232.12,148.34 L232.37,148.57 L232.62,148.80 L232.87,149.03 L233.12,149.27 L233.37,149.52 L233.61,149.76 L233.86,150.01 L234.11,150.26 L234.36,150.51 L234.61,150.77 L234.86,151.03 L235.11,151.29 L235.36,151.56 L235.61,151.83 L235.86,152.11 L236.11,152.39 L236.36,152.69 L236.61,152.99 L236.86,153.30 L237.11,153.62 L237.36,153.95 L237.60,154.29 L237.85,154.65 L238.10,155.01 L238.35,155.39 L238.60,155.78 L238.85,156.19 L239.10,156.61 L239.35,157.05 L239.64,157.58 L239.93,158.13 L240.22,158.71 L240.51,159.30 L240.80,159.91 L241.10,160.54 L241.39,161.18 L241.68,161.84 L241.97,162.51 L242.26,163.19 L242.55,163.89 L242.84,164.59 L243.13,165.29 L243.42,166.01 L243.71,166.73 L244.00,167.45 L244.30,168.17 L244.59,168.90 L244.88,169.62 L245.17,170.35 L245.46,171.07 L245.75,171.78 L246.04,172.49 L246.33,173.19 L246.54,173.69 L246.75,174.21 L246.96,174.74 L247.16,175.28 L247.37,175.83 L247.58,176.38 L247.79,176.93 L248.00,177.49 L248.20,178.06 L248.41,178.62 L248.62,179.18 L248.83,179.73 L249.03,180.28 L249.24,180.83 L249.45,181.37 L249.66,181.89 L249.87,182.41 L250.07,182.91 L250.28,183.40 L250.49,183.87 L250.70,184.32 L250.90,184.76 L251.11,185.17 L251.32,185.56 L251.57,186.01 L251.82,186.44 L252.07,186.85 L252.32,187.24 L252.57,187.62 L252.82,187.98 L253.07,188.32 L253.31,188.66 L253.56,188.97 L253.81,189.28 L254.06,189.57 L254.31,189.85 L254.56,190.12 L254.81,190.38 L255.06,190.64 L255.31,190.88 L255.56,191.11 L255.81,191.33 L256.06,191.55 L256.31,191.76 L256.56,191.97 L256.81,192.17 L257.06,192.37 L257.31,192.56 L257.55,192.74 L257.80,192.91 L258.05,193.07 L258.30,193.22 L258.55,193.35 L258.80,193.48 L259.05,193.59 L259.30,193.70 L259.55,193.79 L259.80,193.88 L260.05,193.96 L260.30,194.04 L260.55,194.11 L260.80,194.18 L261.05,194.24 L261.30,194.30 L261.54,194.35 L261.79,194.40 L262.04,194.45 L262.29,194.50 L262.54,194.55 L262.79,194.60 L263.04,194.66 L263.29,194.71 L263.71,194.80 L264.12,194.88 L264.54,194.95 L264.95,195.01 L265.37,195.07 L265.78,195.12 L266.20,195.17 L266.62,195.21 L267.03,195.25 L267.45,195.28 L267.86,195.30 L268.28,195.33 L268.69,195.35 L269.11,195.37 L269.52,195.38 L269.94,195.40 L270.36,195.41 L270.77,195.43 L271.19,195.44 L271.60,195.45 L272.02,195.47 L272.43,195.48 L272.85,195.50 L273.26,195.52 L273.93,195.55 L274.60,195.57 L275.26,195.60 L275.93,195.62 L276.59,195.64 L277.25,195.65 L277.92,195.67 L278.59,195.68 L279.25,195.69 L279.92,195.70 L280.58,195.71 L281.25,195.71 L281.91,195.72 L282.57,195.72 L283.24,195.73 L283.90,195.73 L284.57,195.74 L285.24,195.74 L285.90,195.75 L286.56,195.75 L287.23,195.76 L287.89,195.77 L288.56,195.78 L289.23,195.79" fill="none" stroke="#000" stroke-width="1.2" stroke-linejoin="round"/>
<circle cx="239.35" cy="157.05" r="1.00" fill="#000"/>
<circle cx="259.30" cy="194.17" r="1.00" fill="#000"/>
<circle cx="269.27" cy="195.25" r="1.00" fill="#000"/>
<circle cx="289.23" cy="195.79" r="1.00" fill="#000"/>
<path d="M219.40,141.07 L220.23,141.07 L221.06,141.07 L221.89,141.07 L222.72,141.07 L223.56,141.07 L224.39,141.07 L225.22,141.07 L226.05,141.07 L226.88,141.07 L227.71,141.07 L228.54,141.07 L229.38,141.07 L230.21,141.07 L231.04,141.07 L231.87,141.07 L232.70,141.07 L233.53,141.07 L234.36,141.07 L235.19,141.07 L236.03,141.07 L236.86,141.07 L237.69,141.07 L238.52,141.07 L239.35,141.07 L239.85,141.07 L240.35,141.07 L240.85,141.07 L241.34,141.08 L241.84,141.08 L242.34,141.09 L242.84,141.11 L243.34,141.13 L243.84,141.15 L244.34,141.18 L244.84,141.21 L245.34,141.25 L245.83,141.30 L246.33,141.36 L246.83,141.43 L247.33,141.50 L247.83,141.59 L248.33,141.68 L248.83,141.79 L249.32,141.91 L249.82,142.04 L250.32,142.19 L250.82,142.35 L251.32,142.52 L251.53,142.61 L251.74,142.70 L251.94,142.81 L252.15,142.93 L252.36,143.06 L252.57,143.20 L252.77,143.36 L252.98,143.52 L253.19,143.70 L253.40,143.88 L253.61,144.08 L253.81,144.28 L254.02,144.49 L254.23,144.72 L254.44,144.95 L254.65,145.19 L254.85,145.44 L255.06,145.69 L255.27,145.95 L255.48,146.22 L255.68,146.50 L255.89,146.78 L256.10,147.07 L256.31,147.37 L256.47,147.61 L256.64,147.85 L256.81,148.10 L256.97,148.36 L257.14,148.62 L257.31,148.89 L257.47,149.16 L257.64,149.44 L257.80,149.73 L257.97,150.02 L258.14,150.32 L258.30,150.63 L258.47,150.94 L258.63,151.26 L258.80,151.59 L258.97,151.92 L259.13,152.27 L259.30,152.62 L259.47,152.98 L259.63,153.34 L259.80,153.72 L259.97,154.10 L260.13,154.50 L260.30,154.90 L260.52,155.45 L260.75,156.02 L260.97,156.59 L261.20,157.18 L261.42,157.77 L261.64,158.38 L261.87,159.00 L262.09,159.63 L262.32,160.26 L262.54,160.91 L262.77,161.57 L262.99,162.24 L263.22,162.92 L263.44,163.61 L263.66,164.31 L263.89,165.02 L264.11,165.74 L264.34,166.47 L264.56,167.20 L264.79,167.95 L265.01,168.71 L265.24,169.48 L265.46,170.25 L265.68,171.04 L265.82,171.52 L265.95,172.02 L266.08,172.55 L266.22,173.09 L266.35,173.64 L266.48,174.21 L266.62,174.79 L266.75,175.38 L266.88,175.98 L267.01,176.58 L267.15,177.18 L267.28,177.77 L267.41,178.37 L267.55,178.96 L267.68,179.53 L267.81,180.10 L267.94,180.66 L268.08,181.19 L268.21,181.71 L268.34,182.21 L268.48,182.69 L268.61,183.14 L268.74,183.56 L268.88,183.95 L269.06,184.45 L269.24,184.92 L269.42,185.37 L269.61,185.79 L269.79,186.19 L269.97,186.57 L270.16,186.92 L270.34,187.25 L270.52,187.57 L270.70,187.87 L270.89,188.15 L271.07,188.41 L271.25,188.67 L271.44,188.91 L271.62,189.14 L271.80,189.36 L271.98,189.57 L272.17,189.78 L272.35,189.98 L272.53,190.18 L272.72,190.37 L272.90,190.56 L273.08,190.75 L273.26,190.94 L273.52,191.21 L273.78,191.45 L274.04,191.68 L274.30,191.89 L274.55,192.09 L274.81,192.27 L275.07,192.44 L275.33,192.59 L275.58,192.74 L275.84,192.87 L276.10,192.99 L276.36,193.11 L276.61,193.22 L276.87,193.32 L277.13,193.41 L277.39,193.50 L277.65,193.59 L277.90,193.68 L278.16,193.76 L278.42,193.84 L278.68,193.92 L278.93,194.00 L279.19,194.09 L279.45,194.17 L279.86,194.31 L280.26,194.43 L280.67,194.54 L281.08,194.64 L281.49,194.74 L281.89,194.82 L282.30,194.90 L282.71,194.97 L283.12,195.03 L283.52,195.09 L283.93,195.15 L284.34,195.20 L284.74,195.24 L285.15,195.29 L285.56,195.33 L285.97,195.38 L286.37,195.42 L286.78,195.46 L287.19,195.51 L287.60,195.56 L288.00,195.61 L288.41,195.66 L288.82,195.72 L289.23,195.79" fill="none" stroke="#cc1c3a" stroke-width="1.2" stroke-linejoin="round"/>
<path d="M239.35,138.93 L240.60,136.74 L238.10,136.74Z" fill="#cc1c3a"/>
<path d="M259.30,155.07 L260.55,152.88 L258.05,152.88Z" fill="#cc1c3a"/>
<path d="M269.27,185.74 L270.52,183.55 L268.02,183.55Z" fill="#cc1c3a"/>
<path d="M279.25,194.88 L280.50,192.70 L278.00,192.70Z" fill="#cc1c3a"/>
<path d="M289.23,196.50 L290.48,194.31 L287.98,194.31Z" fill="#cc1c3a"/>
<circle cx="304.80" cy="137.60" r="1.15" fill="#cc1c3a"/>
<g transform="translate(309.90,139.29) scale(1,1.1)"><text font-size="4.28" fill="#111" stroke="#111" stroke-width="0.1">Contro oligos</text></g>
<path d="M304.80,143.46 L306.24,145.98 L303.36,145.98Z" fill="#000"/>
<g transform="translate(309.90,146.59) scale(1,1.1)"><text font-size="4.28" fill="#111" stroke="#111" stroke-width="0.1">CDC42SE2_DGx2_A88_A4</text></g>
<path d="M304.80,153.64 L306.24,151.12 L303.36,151.12Z" fill="#000"/>
<g transform="translate(309.90,153.89) scale(1,1.1)"><text font-size="4.28" fill="#111" stroke="#111" stroke-width="0.1">CDC42SE2_DGx2_B88_A4</text></g>
<circle cx="304.80" cy="159.50" r="1.15" fill="#000"/>
<g transform="translate(309.90,161.19) scale(1,1.1)"><text font-size="4.28" fill="#111" stroke="#111" stroke-width="0.1">CDC42SE2_DGx2_D88_A4</text></g>
<g transform="translate(432.90,125.60) scale(1,1.1)"><text font-size="5.4" text-anchor="middle" font-weight="bold" fill="#111" stroke="#111" stroke-width="0.18">BAZ1B</text></g>
<path d="M391.40,132.58 V197.50 H475.00" fill="none" stroke="#000" stroke-width="0.9"/>
<path d="M389.60,197.50H391.4" stroke="#000" stroke-width="0.7"/>
<g transform="translate(389.50,199.21) scale(1,1.25)"><text font-size="3.8" text-anchor="end" font-weight="bold" fill="#222">0.0</text></g>
<path d="M389.60,192.09H391.4" stroke="#000" stroke-width="0.7"/>
<g transform="translate(389.50,193.80) scale(1,1.25)"><text font-size="3.8" text-anchor="end" font-weight="bold" fill="#222">0.1</text></g>
<path d="M389.60,186.68H391.4" stroke="#000" stroke-width="0.7"/>
<g transform="translate(389.50,188.39) scale(1,1.25)"><text font-size="3.8" text-anchor="end" font-weight="bold" fill="#222">0.2</text></g>
<path d="M389.60,181.27H391.4" stroke="#000" stroke-width="0.7"/>
<g transform="translate(389.50,182.98) scale(1,1.25)"><text font-size="3.8" text-anchor="end" font-weight="bold" fill="#222">0.3</text></g>
<path d="M389.60,175.86H391.4" stroke="#000" stroke-width="0.7"/>
<g transform="translate(389.50,177.57) scale(1,1.25)"><text font-size="3.8" text-anchor="end" font-weight="bold" fill="#222">0.4</text></g>
<path d="M389.60,170.45H391.4" stroke="#000" stroke-width="0.7"/>
<g transform="translate(389.50,172.16) scale(1,1.25)"><text font-size="3.8" text-anchor="end" font-weight="bold" fill="#222">0.5</text></g>
<path d="M389.60,165.04H391.4" stroke="#000" stroke-width="0.7"/>
<g transform="translate(389.50,166.75) scale(1,1.25)"><text font-size="3.8" text-anchor="end" font-weight="bold" fill="#222">0.6</text></g>
<path d="M389.60,159.63H391.4" stroke="#000" stroke-width="0.7"/>
<g transform="translate(389.50,161.34) scale(1,1.25)"><text font-size="3.8" text-anchor="end" font-weight="bold" fill="#222">0.7</text></g>
<path d="M389.60,154.22H391.4" stroke="#000" stroke-width="0.7"/>
<g transform="translate(389.50,155.93) scale(1,1.25)"><text font-size="3.8" text-anchor="end" font-weight="bold" fill="#222">0.8</text></g>
<path d="M389.60,148.81H391.4" stroke="#000" stroke-width="0.7"/>
<g transform="translate(389.50,150.52) scale(1,1.25)"><text font-size="3.8" text-anchor="end" font-weight="bold" fill="#222">0.9</text></g>
<path d="M389.60,143.40H391.4" stroke="#000" stroke-width="0.7"/>
<g transform="translate(389.50,145.11) scale(1,1.25)"><text font-size="3.8" text-anchor="end" font-weight="bold" fill="#222">1.0</text></g>
<path d="M389.60,137.99H391.4" stroke="#000" stroke-width="0.7"/>
<g transform="translate(389.50,139.70) scale(1,1.25)"><text font-size="3.8" text-anchor="end" font-weight="bold" fill="#222">1.1</text></g>
<path d="M389.60,132.58H391.4" stroke="#000" stroke-width="0.7"/>
<g transform="translate(389.50,134.29) scale(1,1.25)"><text font-size="3.8" text-anchor="end" font-weight="bold" fill="#222">1.2</text></g>
<path d="M391.40,197.5V199.30" stroke="#000" stroke-width="0.7"/>
<g transform="translate(391.40,205.11) scale(1,1.25)"><text font-size="3.8" text-anchor="middle" font-weight="bold" fill="#222">0</text></g>
<path d="M412.30,197.5V199.30" stroke="#000" stroke-width="0.7"/>
<g transform="translate(412.30,205.11) scale(1,1.25)"><text font-size="3.8" text-anchor="middle" font-weight="bold" fill="#222">1</text></g>
<path d="M433.20,197.5V199.30" stroke="#000" stroke-width="0.7"/>
<g transform="translate(433.20,205.11) scale(1,1.25)"><text font-size="3.8" text-anchor="middle" font-weight="bold" fill="#222">2</text></g>
<path d="M454.10,197.5V199.30" stroke="#000" stroke-width="0.7"/>
<g transform="translate(454.10,205.11) scale(1,1.25)"><text font-size="3.8" text-anchor="middle" font-weight="bold" fill="#222">3</text></g>
<path d="M475.00,197.5V199.30" stroke="#000" stroke-width="0.7"/>
<g transform="translate(475.00,205.11) scale(1,1.25)"><text font-size="3.8" text-anchor="middle" font-weight="bold" fill="#222">4</text></g>
<g transform="translate(433.20,211.90) scale(1,1.1)"><text font-size="4.5" text-anchor="middle" font-weight="bold" fill="#222">Bortezomib nM</text></g>
<g transform="translate(382.10,165.20) rotate(-90) scale(1,1.0)"><text font-size="5.5" text-anchor="middle" font-weight="bold" fill="#222">Viability</text></g>
<path d="M391.40,143.94 L392.10,143.94 L392.79,143.95 L393.49,143.95 L394.19,143.96 L394.88,143.96 L395.58,143.97 L396.28,143.98 L396.97,143.98 L397.67,143.99 L398.37,144.00 L399.06,144.01 L399.76,144.02 L400.46,144.03 L401.15,144.05 L401.85,144.06 L402.55,144.07 L403.24,144.09 L403.94,144.10 L404.64,144.12 L405.33,144.14 L406.03,144.15 L406.73,144.17 L407.42,144.19 L408.12,144.21 L408.28,144.22 L408.43,144.22 L408.59,144.22 L408.75,144.23 L408.90,144.24 L409.06,144.25 L409.22,144.26 L409.37,144.28 L409.53,144.30 L409.69,144.33 L409.84,144.36 L410.00,144.39 L410.16,144.44 L410.31,144.49 L410.47,144.55 L410.63,144.62 L410.78,144.70 L410.94,144.79 L411.10,144.89 L411.25,145.00 L411.41,145.12 L411.57,145.25 L411.73,145.40 L411.88,145.56 L411.96,145.66 L412.04,145.77 L412.12,145.89 L412.20,146.03 L412.27,146.19 L412.35,146.36 L412.43,146.55 L412.51,146.75 L412.59,146.96 L412.67,147.19 L412.74,147.43 L412.82,147.68 L412.90,147.95 L412.98,148.22 L413.06,148.51 L413.14,148.81 L413.21,149.11 L413.29,149.43 L413.37,149.76 L413.45,150.09 L413.53,150.44 L413.61,150.79 L413.68,151.15 L413.76,151.51 L413.82,151.81 L413.88,152.11 L413.95,152.43 L414.01,152.76 L414.07,153.10 L414.13,153.44 L414.19,153.80 L414.25,154.16 L414.31,154.53 L414.37,154.91 L414.43,155.30 L414.49,155.69 L414.56,156.09 L414.62,156.50 L414.68,156.90 L414.74,157.32 L414.80,157.73 L414.86,158.15 L414.92,158.58 L414.98,159.00 L415.04,159.43 L415.10,159.86 L415.17,160.28 L415.23,160.71 L415.30,161.21 L415.37,161.71 L415.43,162.22 L415.50,162.74 L415.57,163.27 L415.64,163.80 L415.71,164.34 L415.78,164.88 L415.85,165.43 L415.92,165.98 L415.99,166.53 L416.06,167.09 L416.13,167.65 L416.20,168.20 L416.27,168.76 L416.34,169.32 L416.41,169.88 L416.48,170.44 L416.55,170.99 L416.62,171.54 L416.69,172.09 L416.76,172.63 L416.83,173.16 L416.90,173.70 L416.96,174.16 L417.02,174.64 L417.08,175.12 L417.14,175.61 L417.20,176.10 L417.26,176.60 L417.32,177.09 L417.39,177.59 L417.45,178.09 L417.51,178.58 L417.57,179.07 L417.63,179.56 L417.69,180.04 L417.75,180.51 L417.81,180.97 L417.87,181.42 L417.93,181.87 L418.00,182.29 L418.06,182.71 L418.12,183.11 L418.18,183.49 L418.24,183.85 L418.30,184.19 L418.36,184.52 L418.46,184.99 L418.55,185.45 L418.65,185.89 L418.74,186.30 L418.84,186.70 L418.94,187.07 L419.03,187.43 L419.13,187.76 L419.22,188.08 L419.32,188.38 L419.41,188.67 L419.51,188.93 L419.61,189.19 L419.70,189.42 L419.80,189.64 L419.89,189.84 L419.99,190.04 L420.09,190.21 L420.18,190.38 L420.28,190.53 L420.37,190.66 L420.47,190.79 L420.56,190.90 L420.66,191.01 L420.79,191.14 L420.92,191.25 L421.05,191.36 L421.18,191.45 L421.31,191.54 L421.44,191.62 L421.57,191.69 L421.70,191.75 L421.84,191.80 L421.97,191.84 L422.10,191.88 L422.23,191.92 L422.36,191.95 L422.49,191.97 L422.62,191.99 L422.75,192.01 L422.88,192.02 L423.01,192.03 L423.14,192.04 L423.27,192.05 L423.40,192.06 L423.53,192.07 L423.66,192.08 L423.79,192.09 L424.19,192.12 L424.58,192.15 L424.97,192.18 L425.36,192.20 L425.75,192.23 L426.15,192.25 L426.54,192.26 L426.93,192.28 L427.32,192.29 L427.71,192.31 L428.11,192.32 L428.50,192.33 L428.89,192.33 L429.28,192.34 L429.67,192.35 L430.06,192.35 L430.46,192.35 L430.85,192.36 L431.24,192.36 L431.63,192.36 L432.02,192.36 L432.42,192.36 L432.81,192.36 L433.20,192.36 L434.51,192.36 L435.81,192.36 L437.12,192.36 L438.42,192.36 L439.73,192.36 L441.04,192.36 L442.34,192.36 L443.65,192.36 L444.96,192.36 L446.26,192.36 L447.57,192.36 L448.88,192.36 L450.18,192.36 L451.49,192.36 L452.79,192.36 L454.10,192.36 L455.41,192.36 L456.71,192.36 L458.02,192.36 L459.32,192.36 L460.63,192.36 L461.94,192.36 L463.24,192.36 L464.55,192.36" fill="none" stroke="#000" stroke-width="1.2" stroke-linejoin="round"/>
<path d="M433.20,191.38 L434.45,193.57 L431.95,193.57Z" fill="#000"/>
<path d="M443.65,191.38 L444.90,193.57 L442.40,193.57Z" fill="#000"/>
<path d="M454.10,190.84 L455.35,193.03 L452.85,193.03Z" fill="#000"/>
<path d="M464.55,190.84 L465.80,193.03 L463.30,193.03Z" fill="#000"/>
<path d="M391.40,143.67 L391.81,143.79 L392.22,143.90 L392.63,144.01 L393.04,144.11 L393.45,144.21 L393.86,144.30 L394.27,144.40 L394.67,144.49 L395.08,144.58 L395.49,144.67 L395.90,144.77 L396.31,144.86 L396.72,144.97 L397.13,145.07 L397.54,145.19 L397.95,145.31 L398.36,145.43 L398.77,145.57 L399.18,145.72 L399.59,145.88 L400.00,146.05 L400.40,146.23 L400.81,146.43 L401.22,146.65 L401.68,146.89 L402.15,147.13 L402.61,147.35 L403.07,147.58 L403.53,147.80 L403.99,148.02 L404.45,148.25 L404.92,148.49 L405.38,148.73 L405.84,148.98 L406.30,149.25 L406.76,149.54 L407.22,149.85 L407.68,150.18 L408.15,150.53 L408.61,150.91 L409.07,151.33 L409.53,151.77 L409.99,152.26 L410.45,152.78 L410.92,153.34 L411.38,153.95 L411.84,154.60 L412.30,155.30 L412.51,155.64 L412.72,156.01 L412.93,156.39 L413.14,156.80 L413.34,157.22 L413.55,157.67 L413.76,158.13 L413.97,158.60 L414.18,159.09 L414.39,159.59 L414.60,160.10 L414.81,160.62 L415.02,161.15 L415.23,161.69 L415.43,162.24 L415.64,162.79 L415.85,163.34 L416.06,163.90 L416.27,164.45 L416.48,165.01 L416.69,165.56 L416.90,166.11 L417.11,166.66 L417.32,167.20 L417.54,167.80 L417.77,168.41 L418.00,169.04 L418.22,169.68 L418.45,170.34 L418.67,171.00 L418.90,171.68 L419.13,172.36 L419.35,173.04 L419.58,173.72 L419.81,174.41 L420.03,175.09 L420.26,175.77 L420.49,176.44 L420.71,177.10 L420.94,177.76 L421.17,178.40 L421.39,179.02 L421.62,179.63 L421.84,180.22 L422.07,180.79 L422.30,181.34 L422.52,181.86 L422.75,182.35 L422.97,182.81 L423.19,183.24 L423.40,183.66 L423.62,184.07 L423.84,184.47 L424.06,184.84 L424.27,185.21 L424.49,185.56 L424.71,185.91 L424.93,186.24 L425.14,186.56 L425.36,186.86 L425.58,187.16 L425.80,187.45 L426.02,187.73 L426.23,188.00 L426.45,188.26 L426.67,188.52 L426.89,188.77 L427.10,189.01 L427.32,189.25 L427.54,189.48 L427.76,189.70 L427.97,189.93 L428.19,190.14 L428.41,190.34 L428.63,190.53 L428.85,190.71 L429.06,190.89 L429.28,191.05 L429.50,191.20 L429.72,191.34 L429.93,191.48 L430.15,191.61 L430.37,191.73 L430.59,191.84 L430.81,191.95 L431.02,192.06 L431.24,192.16 L431.46,192.25 L431.68,192.34 L431.89,192.43 L432.11,192.51 L432.33,192.59 L432.55,192.67 L432.76,192.75 L432.98,192.83 L433.20,192.90 L433.64,193.05 L434.07,193.18 L434.51,193.30 L434.94,193.40 L435.38,193.50 L435.81,193.58 L436.25,193.66 L436.68,193.72 L437.12,193.78 L437.55,193.83 L437.99,193.88 L438.42,193.92 L438.86,193.95 L439.30,193.98 L439.73,194.01 L440.17,194.03 L440.60,194.06 L441.04,194.08 L441.47,194.10 L441.91,194.13 L442.34,194.16 L442.78,194.18 L443.21,194.22 L443.65,194.25 L444.09,194.29 L444.52,194.33 L444.96,194.37 L445.39,194.40 L445.83,194.44 L446.26,194.47 L446.70,194.50 L447.13,194.53 L447.57,194.56 L448.00,194.59 L448.44,194.62 L448.88,194.64 L449.31,194.67 L449.75,194.69 L450.18,194.71 L450.62,194.72 L451.05,194.74 L451.49,194.75 L451.92,194.77 L452.36,194.78 L452.79,194.78 L453.23,194.79 L453.66,194.79 L454.10,194.79 L454.54,194.79 L454.97,194.79 L455.41,194.79 L455.84,194.79 L456.28,194.79 L456.71,194.79 L457.15,194.79 L457.58,194.79 L458.02,194.79 L458.45,194.79 L458.89,194.79 L459.32,194.79 L459.76,194.79 L460.20,194.79 L460.63,194.79 L461.07,194.79 L461.50,194.79 L461.94,194.79 L462.37,194.79 L462.81,194.79 L463.24,194.79 L463.68,194.79 L464.11,194.79 L464.55,194.79" fill="none" stroke="#000" stroke-width="1.2" stroke-linejoin="round"/>
<path d="M412.30,156.55 L413.55,154.36 L411.05,154.36Z" fill="#000"/>
<path d="M433.20,193.88 L434.45,191.69 L431.95,191.69Z" fill="#000"/>
<path d="M443.65,194.42 L444.90,192.23 L442.40,192.23Z" fill="#000"/>
<path d="M464.55,196.04 L465.80,193.86 L463.30,193.86Z" fill="#000"/>
<path d="M391.40,141.07 L392.27,141.08 L393.14,141.08 L394.01,141.08 L394.88,141.08 L395.75,141.08 L396.62,141.08 L397.50,141.09 L398.37,141.09 L399.24,141.09 L400.11,141.09 L400.98,141.10 L401.85,141.10 L402.72,141.11 L403.59,141.11 L404.46,141.12 L405.33,141.13 L406.20,141.14 L407.07,141.15 L407.95,141.16 L408.82,141.17 L409.69,141.18 L410.56,141.20 L411.43,141.22 L412.30,141.24 L412.65,141.24 L413.00,141.25 L413.34,141.26 L413.69,141.27 L414.04,141.28 L414.39,141.29 L414.74,141.30 L415.09,141.32 L415.43,141.34 L415.78,141.36 L416.13,141.39 L416.48,141.42 L416.83,141.45 L417.18,141.50 L417.52,141.54 L417.87,141.60 L418.22,141.66 L418.57,141.73 L418.92,141.80 L419.27,141.89 L419.61,141.98 L419.96,142.08 L420.31,142.20 L420.66,142.32 L420.92,142.42 L421.18,142.52 L421.44,142.62 L421.70,142.73 L421.97,142.84 L422.23,142.95 L422.49,143.07 L422.75,143.20 L423.01,143.33 L423.27,143.47 L423.53,143.61 L423.79,143.76 L424.06,143.91 L424.32,144.07 L424.58,144.24 L424.84,144.41 L425.10,144.59 L425.36,144.78 L425.62,144.98 L425.88,145.19 L426.15,145.40 L426.41,145.63 L426.67,145.86 L426.93,146.11 L427.19,146.35 L427.45,146.59 L427.71,146.82 L427.97,147.05 L428.24,147.28 L428.50,147.51 L428.76,147.75 L429.02,147.99 L429.28,148.24 L429.54,148.49 L429.80,148.76 L430.06,149.05 L430.33,149.34 L430.59,149.66 L430.85,150.00 L431.11,150.35 L431.37,150.73 L431.63,151.14 L431.89,151.57 L432.15,152.03 L432.42,152.53 L432.68,153.06 L432.94,153.62 L433.20,154.22 L433.44,154.80 L433.67,155.43 L433.91,156.10 L434.14,156.80 L434.38,157.55 L434.61,158.32 L434.85,159.12 L435.08,159.95 L435.32,160.79 L435.55,161.66 L435.79,162.54 L436.02,163.43 L436.26,164.32 L436.49,165.22 L436.73,166.13 L436.96,167.02 L437.20,167.92 L437.43,168.80 L437.67,169.67 L437.90,170.52 L438.14,171.35 L438.37,172.16 L438.61,172.94 L438.84,173.70 L439.05,174.35 L439.26,175.01 L439.47,175.67 L439.68,176.32 L439.89,176.98 L440.10,177.63 L440.31,178.28 L440.51,178.93 L440.72,179.57 L440.93,180.20 L441.14,180.82 L441.35,181.44 L441.56,182.05 L441.77,182.64 L441.98,183.22 L442.19,183.79 L442.40,184.35 L442.60,184.89 L442.81,185.42 L443.02,185.92 L443.23,186.41 L443.44,186.88 L443.65,187.33 L443.86,187.76 L444.07,188.17 L444.28,188.56 L444.49,188.92 L444.69,189.27 L444.90,189.60 L445.11,189.92 L445.32,190.22 L445.53,190.50 L445.74,190.77 L445.95,191.03 L446.16,191.27 L446.37,191.50 L446.58,191.73 L446.78,191.94 L446.99,192.14 L447.20,192.34 L447.41,192.52 L447.62,192.71 L447.83,192.88 L448.04,193.05 L448.25,193.22 L448.46,193.39 L448.67,193.55 L448.88,193.71 L449.09,193.88 L449.31,194.03 L449.53,194.18 L449.75,194.31 L449.96,194.44 L450.18,194.56 L450.40,194.67 L450.62,194.77 L450.83,194.87 L451.05,194.96 L451.27,195.04 L451.49,195.12 L451.71,195.18 L451.92,195.25 L452.14,195.30 L452.36,195.36 L452.58,195.40 L452.79,195.44 L453.01,195.48 L453.23,195.51 L453.45,195.54 L453.66,195.57 L453.88,195.59 L454.10,195.61 L454.54,195.64 L454.97,195.67 L455.41,195.69 L455.84,195.72 L456.28,195.74 L456.71,195.76 L457.15,195.77 L457.58,195.79 L458.02,195.80 L458.45,195.81 L458.89,195.82 L459.32,195.83 L459.76,195.84 L460.20,195.84 L460.63,195.85 L461.07,195.85 L461.50,195.85 L461.94,195.86 L462.37,195.86 L462.81,195.86 L463.24,195.87 L463.68,195.87 L464.11,195.87 L464.55,195.88" fill="none" stroke="#cc1c3a" stroke-width="1.2" stroke-linejoin="round"/>
<circle cx="412.30" cy="136.91" r="1.00" fill="#cc1c3a"/>
<circle cx="433.20" cy="154.22" r="1.00" fill="#cc1c3a"/>
<circle cx="443.65" cy="187.76" r="1.00" fill="#cc1c3a"/>
<circle cx="454.10" cy="194.79" r="1.00" fill="#cc1c3a"/>
<circle cx="464.55" cy="195.34" r="1.00" fill="#cc1c3a"/>
<circle cx="465.50" cy="137.80" r="1.15" fill="#cc1c3a"/>
<g transform="translate(470.60,139.55) scale(1,1.1)"><text font-size="4.42" fill="#111" stroke="#111" stroke-width="0.1">Contro oligos</text></g>
<path d="M465.50,143.66 L466.94,146.18 L464.06,146.18Z" fill="#000"/>
<g transform="translate(470.60,146.85) scale(1,1.1)"><text font-size="4.42" fill="#111" stroke="#111" stroke-width="0.1">BAZ1B_DGx2_B36_E6</text></g>
<path d="M465.50,153.84 L466.94,151.32 L464.06,151.32Z" fill="#000"/>
<g transform="translate(470.60,154.15) scale(1,1.1)"><text font-size="4.42" fill="#111" stroke="#111" stroke-width="0.1">BAZ1B_DGx2_C36_E6</text></g>
<g transform="translate(263.00,241.80) scale(1,1.1)"><text font-size="5.6" text-anchor="middle" font-weight="bold" fill="#111" stroke="#111" stroke-width="0.18">MDM4</text></g>
<path d="M220.60,249.42 V315.20 H305.20" fill="none" stroke="#000" stroke-width="0.9"/>
<path d="M218.80,315.20H220.6" stroke="#000" stroke-width="0.7"/>
<g transform="translate(218.50,316.91) scale(1,1.25)"><text font-size="3.8" text-anchor="end" font-weight="bold" fill="#222">0.0</text></g>
<path d="M218.80,309.22H220.6" stroke="#000" stroke-width="0.7"/>
<g transform="translate(218.50,310.93) scale(1,1.25)"><text font-size="3.8" text-anchor="end" font-weight="bold" fill="#222">0.1</text></g>
<path d="M218.80,303.24H220.6" stroke="#000" stroke-width="0.7"/>
<g transform="translate(218.50,304.95) scale(1,1.25)"><text font-size="3.8" text-anchor="end" font-weight="bold" fill="#222">0.2</text></g>
<path d="M218.80,297.26H220.6" stroke="#000" stroke-width="0.7"/>
<g transform="translate(218.50,298.97) scale(1,1.25)"><text font-size="3.8" text-anchor="end" font-weight="bold" fill="#222">0.3</text></g>
<path d="M218.80,291.28H220.6" stroke="#000" stroke-width="0.7"/>
<g transform="translate(218.50,292.99) scale(1,1.25)"><text font-size="3.8" text-anchor="end" font-weight="bold" fill="#222">0.4</text></g>
<path d="M218.80,285.30H220.6" stroke="#000" stroke-width="0.7"/>
<g transform="translate(218.50,287.01) scale(1,1.25)"><text font-size="3.8" text-anchor="end" font-weight="bold" fill="#222">0.5</text></g>
<path d="M218.80,279.32H220.6" stroke="#000" stroke-width="0.7"/>
<g transform="translate(218.50,281.03) scale(1,1.25)"><text font-size="3.8" text-anchor="end" font-weight="bold" fill="#222">0.6</text></g>
<path d="M218.80,273.34H220.6" stroke="#000" stroke-width="0.7"/>
<g transform="translate(218.50,275.05) scale(1,1.25)"><text font-size="3.8" text-anchor="end" font-weight="bold" fill="#222">0.7</text></g>
<path d="M218.80,267.36H220.6" stroke="#000" stroke-width="0.7"/>
<g transform="translate(218.50,269.07) scale(1,1.25)"><text font-size="3.8" text-anchor="end" font-weight="bold" fill="#222">0.8</text></g>
<path d="M218.80,261.38H220.6" stroke="#000" stroke-width="0.7"/>
<g transform="translate(218.50,263.09) scale(1,1.25)"><text font-size="3.8" text-anchor="end" font-weight="bold" fill="#222">0.9</text></g>
<path d="M218.80,255.40H220.6" stroke="#000" stroke-width="0.7"/>
<g transform="translate(218.50,257.11) scale(1,1.25)"><text font-size="3.8" text-anchor="end" font-weight="bold" fill="#222">1.0</text></g>
<path d="M218.80,249.42H220.6" stroke="#000" stroke-width="0.7"/>
<g transform="translate(218.50,251.13) scale(1,1.25)"><text font-size="3.8" text-anchor="end" font-weight="bold" fill="#222">1.1</text></g>
<path d="M220.60,315.2V317.00" stroke="#000" stroke-width="0.7"/>
<g transform="translate(220.60,321.51) scale(1,1.25)"><text font-size="3.8" text-anchor="middle" font-weight="bold" fill="#222">0</text></g>
<path d="M241.75,315.2V317.00" stroke="#000" stroke-width="0.7"/>
<g transform="translate(241.75,321.51) scale(1,1.25)"><text font-size="3.8" text-anchor="middle" font-weight="bold" fill="#222">1</text></g>
<path d="M262.90,315.2V317.00" stroke="#000" stroke-width="0.7"/>
<g transform="translate(262.90,321.51) scale(1,1.25)"><text font-size="3.8" text-anchor="middle" font-weight="bold" fill="#222">2</text></g>
<path d="M284.05,315.2V317.00" stroke="#000" stroke-width="0.7"/>
<g transform="translate(284.05,321.51) scale(1,1.25)"><text font-size="3.8" text-anchor="middle" font-weight="bold" fill="#222">3</text></g>
<path d="M305.20,315.2V317.00" stroke="#000" stroke-width="0.7"/>
<g transform="translate(305.20,321.51) scale(1,1.25)"><text font-size="3.8" text-anchor="middle" font-weight="bold" fill="#222">4</text></g>
<g transform="translate(262.90,329.30) scale(1,1.1)"><text font-size="4.65" text-anchor="middle" font-weight="bold" fill="#222">Bortezomib nM</text></g>
<g transform="translate(211.00,282.00) rotate(-90) scale(1,1.0)"><text font-size="5.5" text-anchor="middle" font-weight="bold" fill="#222">Viability</text></g>
<path d="M220.60,255.40 L221.13,255.41 L221.66,255.42 L222.19,255.43 L222.72,255.43 L223.24,255.44 L223.77,255.44 L224.30,255.45 L224.83,255.46 L225.36,255.46 L225.89,255.47 L226.42,255.47 L226.94,255.48 L227.47,255.49 L228.00,255.50 L228.53,255.51 L229.06,255.52 L229.59,255.54 L230.12,255.55 L230.65,255.57 L231.17,255.59 L231.70,255.61 L232.23,255.64 L232.76,255.67 L233.29,255.70 L233.64,255.72 L234.00,255.74 L234.35,255.75 L234.70,255.77 L235.05,255.78 L235.41,255.79 L235.76,255.81 L236.11,255.82 L236.46,255.84 L236.81,255.86 L237.17,255.89 L237.52,255.92 L237.87,255.95 L238.22,256.00 L238.58,256.04 L238.93,256.10 L239.28,256.16 L239.63,256.23 L239.99,256.32 L240.34,256.41 L240.69,256.51 L241.04,256.63 L241.40,256.75 L241.75,256.89 L241.93,256.97 L242.10,257.05 L242.28,257.14 L242.45,257.23 L242.63,257.33 L242.81,257.44 L242.98,257.55 L243.16,257.66 L243.34,257.78 L243.51,257.90 L243.69,258.03 L243.87,258.17 L244.04,258.31 L244.22,258.45 L244.39,258.60 L244.57,258.76 L244.75,258.92 L244.92,259.09 L245.10,259.26 L245.27,259.43 L245.45,259.61 L245.63,259.80 L245.80,259.99 L245.98,260.18 L246.23,260.46 L246.47,260.73 L246.72,261.00 L246.97,261.27 L247.21,261.53 L247.46,261.81 L247.71,262.08 L247.95,262.36 L248.20,262.65 L248.45,262.95 L248.69,263.25 L248.94,263.57 L249.19,263.90 L249.43,264.25 L249.68,264.61 L249.93,264.99 L250.17,265.39 L250.42,265.81 L250.67,266.25 L250.91,266.72 L251.16,267.21 L251.41,267.73 L251.66,268.28 L251.90,268.86 L252.12,269.41 L252.34,270.00 L252.56,270.64 L252.78,271.31 L253.00,272.02 L253.22,272.75 L253.44,273.51 L253.66,274.29 L253.88,275.08 L254.11,275.89 L254.33,276.71 L254.55,277.54 L254.77,278.36 L254.99,279.19 L255.21,280.01 L255.43,280.82 L255.65,281.61 L255.87,282.39 L256.09,283.15 L256.31,283.89 L256.53,284.59 L256.75,285.26 L256.97,285.90 L257.19,286.50 L257.43,287.11 L257.67,287.69 L257.90,288.26 L258.14,288.80 L258.38,289.33 L258.62,289.84 L258.86,290.33 L259.09,290.81 L259.33,291.27 L259.57,291.72 L259.81,292.16 L260.04,292.58 L260.28,293.00 L260.52,293.41 L260.76,293.81 L261.00,294.20 L261.23,294.59 L261.47,294.98 L261.71,295.36 L261.95,295.74 L262.19,296.12 L262.42,296.49 L262.66,296.88 L262.90,297.26 L263.12,297.62 L263.34,297.97 L263.56,298.32 L263.78,298.67 L264.00,299.02 L264.22,299.36 L264.44,299.69 L264.66,300.03 L264.88,300.36 L265.10,300.68 L265.32,301.00 L265.54,301.31 L265.76,301.61 L265.98,301.91 L266.20,302.20 L266.43,302.48 L266.65,302.76 L266.87,303.03 L267.09,303.29 L267.31,303.54 L267.53,303.78 L267.75,304.01 L267.97,304.23 L268.19,304.44 L268.41,304.63 L268.63,304.82 L268.85,305.00 L269.07,305.16 L269.29,305.31 L269.51,305.46 L269.73,305.59 L269.95,305.72 L270.17,305.84 L270.39,305.95 L270.61,306.05 L270.83,306.15 L271.05,306.24 L271.27,306.33 L271.49,306.42 L271.71,306.50 L271.93,306.57 L272.15,306.65 L272.37,306.72 L272.59,306.79 L272.81,306.86 L273.03,306.93 L273.25,307.00 L273.48,307.07 L273.92,307.20 L274.36,307.33 L274.80,307.45 L275.24,307.56 L275.68,307.66 L276.12,307.75 L276.56,307.83 L277.00,307.91 L277.44,307.98 L277.88,308.05 L278.32,308.11 L278.76,308.16 L279.20,308.21 L279.64,308.26 L280.08,308.30 L280.52,308.34 L280.97,308.38 L281.41,308.42 L281.85,308.45 L282.29,308.49 L282.73,308.52 L283.17,308.55 L283.61,308.59 L284.05,308.62 L284.49,308.66 L284.93,308.69 L285.37,308.71 L285.81,308.74 L286.25,308.76 L286.69,308.78 L287.13,308.79 L287.57,308.81 L288.02,308.82 L288.46,308.83 L288.90,308.84 L289.34,308.84 L289.78,308.85 L290.22,308.86 L290.66,308.86 L291.10,308.87 L291.54,308.87 L291.98,308.88 L292.42,308.88 L292.86,308.89 L293.30,308.89 L293.74,308.90 L294.18,308.91 L294.62,308.92" fill="none" stroke="#000" stroke-width="1.2" stroke-linejoin="round"/>
<circle cx="241.75" cy="256.89" r="1.00" fill="#000"/>
<circle cx="262.90" cy="297.26" r="1.00" fill="#000"/>
<circle cx="273.48" cy="307.43" r="1.00" fill="#000"/>
<circle cx="284.05" cy="309.22" r="1.00" fill="#000"/>
<circle cx="294.62" cy="309.22" r="1.00" fill="#000"/>
<path d="M220.60,255.40 L220.78,255.57 L220.95,255.74 L221.13,255.90 L221.31,256.06 L221.48,256.22 L221.66,256.37 L221.83,256.52 L222.01,256.68 L222.19,256.83 L222.36,256.98 L222.54,257.13 L222.72,257.29 L222.89,257.45 L223.07,257.61 L223.24,257.78 L223.42,257.95 L223.60,258.13 L223.77,258.31 L223.95,258.50 L224.12,258.70 L224.30,258.91 L224.48,259.12 L224.65,259.35 L224.83,259.59 L225.05,259.90 L225.27,260.22 L225.49,260.55 L225.71,260.90 L225.93,261.26 L226.15,261.63 L226.37,262.00 L226.59,262.39 L226.81,262.78 L227.03,263.18 L227.25,263.58 L227.47,263.99 L227.69,264.40 L227.91,264.81 L228.13,265.23 L228.35,265.64 L228.58,266.05 L228.80,266.47 L229.02,266.88 L229.24,267.28 L229.46,267.68 L229.68,268.08 L229.90,268.47 L230.12,268.86 L230.60,269.69 L231.09,270.54 L231.57,271.40 L232.06,272.26 L232.54,273.12 L233.03,273.99 L233.51,274.85 L234.00,275.72 L234.48,276.59 L234.96,277.45 L235.45,278.31 L235.93,279.17 L236.42,280.02 L236.90,280.86 L237.39,281.69 L237.87,282.51 L238.36,283.32 L238.84,284.11 L239.33,284.90 L239.81,285.66 L240.30,286.41 L240.78,287.13 L241.27,287.84 L241.75,288.53 L242.17,289.11 L242.60,289.68 L243.02,290.24 L243.44,290.79 L243.87,291.33 L244.29,291.85 L244.71,292.36 L245.13,292.87 L245.56,293.36 L245.98,293.84 L246.40,294.31 L246.83,294.78 L247.25,295.23 L247.67,295.67 L248.09,296.11 L248.52,296.53 L248.94,296.95 L249.36,297.36 L249.79,297.76 L250.21,298.15 L250.63,298.54 L251.06,298.92 L251.48,299.29 L251.90,299.65 L252.36,300.04 L252.82,300.41 L253.28,300.77 L253.73,301.11 L254.19,301.45 L254.65,301.78 L255.11,302.09 L255.57,302.40 L256.03,302.69 L256.48,302.98 L256.94,303.26 L257.40,303.53 L257.86,303.79 L258.32,304.05 L258.78,304.30 L259.23,304.54 L259.69,304.78 L260.15,305.02 L260.61,305.25 L261.07,305.47 L261.53,305.70 L261.98,305.92 L262.44,306.13 L262.90,306.35 L263.34,306.55 L263.78,306.75 L264.22,306.94 L264.66,307.12 L265.10,307.30 L265.54,307.47 L265.98,307.64 L266.43,307.80 L266.87,307.95 L267.31,308.11 L267.75,308.25 L268.19,308.39 L268.63,308.53 L269.07,308.66 L269.51,308.79 L269.95,308.92 L270.39,309.04 L270.83,309.16 L271.27,309.28 L271.71,309.39 L272.15,309.50 L272.59,309.61 L273.03,309.71 L273.48,309.82 L273.92,309.92 L274.36,310.01 L274.80,310.11 L275.24,310.19 L275.68,310.27 L276.12,310.35 L276.56,310.43 L277.00,310.50 L277.44,310.56 L277.88,310.63 L278.32,310.69 L278.76,310.74 L279.20,310.80 L279.64,310.85 L280.08,310.90 L280.52,310.95 L280.97,311.00 L281.41,311.05 L281.85,311.09 L282.29,311.14 L282.73,311.18 L283.17,311.23 L283.61,311.27 L284.05,311.31 L284.49,311.36 L284.93,311.39 L285.37,311.43 L285.81,311.46 L286.25,311.50 L286.69,311.53 L287.13,311.55 L287.57,311.58 L288.02,311.60 L288.46,311.63 L288.90,311.65 L289.34,311.67 L289.78,311.69 L290.22,311.71 L290.66,311.73 L291.10,311.74 L291.54,311.76 L291.98,311.78 L292.42,311.80 L292.86,311.82 L293.30,311.84 L293.74,311.86 L294.18,311.89 L294.62,311.91" fill="none" stroke="#000" stroke-width="1.2" stroke-linejoin="round"/>
<circle cx="241.75" cy="288.53" r="1.00" fill="#000"/>
<circle cx="262.90" cy="306.35" r="1.00" fill="#000"/>
<circle cx="273.48" cy="310.42" r="1.00" fill="#000"/>
<circle cx="294.62" cy="312.21" r="1.00" fill="#000"/>
<path d="M220.60,254.80 L221.48,254.81 L222.36,254.82 L223.24,254.83 L224.12,254.84 L225.01,254.85 L225.89,254.85 L226.77,254.86 L227.65,254.87 L228.53,254.88 L229.41,254.89 L230.29,254.90 L231.17,254.92 L232.06,254.93 L232.94,254.95 L233.82,254.98 L234.70,255.01 L235.58,255.04 L236.46,255.07 L237.34,255.11 L238.22,255.16 L239.11,255.21 L239.99,255.27 L240.87,255.33 L241.75,255.40 L242.08,255.43 L242.40,255.46 L242.73,255.50 L243.05,255.55 L243.38,255.60 L243.71,255.65 L244.03,255.71 L244.36,255.78 L244.68,255.85 L245.01,255.93 L245.34,256.02 L245.66,256.11 L245.99,256.21 L246.31,256.31 L246.64,256.43 L246.97,256.55 L247.29,256.67 L247.62,256.81 L247.95,256.95 L248.27,257.10 L248.60,257.26 L248.92,257.43 L249.25,257.61 L249.58,257.79 L249.87,257.96 L250.16,258.14 L250.45,258.32 L250.74,258.51 L251.03,258.70 L251.32,258.90 L251.61,259.11 L251.90,259.32 L252.19,259.54 L252.48,259.76 L252.77,259.99 L253.07,260.23 L253.36,260.48 L253.65,260.74 L253.94,261.00 L254.23,261.27 L254.52,261.55 L254.81,261.84 L255.10,262.14 L255.39,262.45 L255.68,262.76 L255.97,263.09 L256.26,263.43 L256.56,263.77 L256.81,264.08 L257.07,264.38 L257.32,264.67 L257.58,264.97 L257.83,265.26 L258.09,265.56 L258.34,265.86 L258.60,266.16 L258.86,266.47 L259.11,266.80 L259.37,267.13 L259.62,267.48 L259.88,267.84 L260.13,268.22 L260.39,268.61 L260.64,269.03 L260.90,269.47 L261.16,269.93 L261.41,270.43 L261.67,270.94 L261.92,271.49 L262.18,272.07 L262.43,272.69 L262.69,273.34 L262.91,273.94 L263.13,274.60 L263.35,275.29 L263.57,276.03 L263.79,276.81 L264.01,277.61 L264.23,278.45 L264.45,279.31 L264.67,280.18 L264.89,281.08 L265.11,281.98 L265.33,282.89 L265.55,283.80 L265.77,284.72 L265.99,285.62 L266.21,286.51 L266.43,287.39 L266.65,288.25 L266.87,289.09 L267.09,289.90 L267.32,290.68 L267.54,291.42 L267.76,292.12 L267.98,292.77 L268.19,293.37 L268.40,293.95 L268.61,294.50 L268.82,295.04 L269.03,295.56 L269.25,296.06 L269.46,296.55 L269.67,297.02 L269.88,297.48 L270.09,297.92 L270.30,298.35 L270.51,298.77 L270.73,299.18 L270.94,299.58 L271.15,299.97 L271.36,300.36 L271.57,300.73 L271.78,301.10 L271.99,301.47 L272.21,301.83 L272.42,302.18 L272.63,302.54 L272.84,302.89 L273.05,303.24 L273.29,303.63 L273.53,304.01 L273.77,304.39 L274.00,304.76 L274.24,305.12 L274.48,305.47 L274.72,305.82 L274.96,306.15 L275.19,306.48 L275.43,306.80 L275.67,307.12 L275.91,307.42 L276.15,307.72 L276.38,308.01 L276.62,308.29 L276.86,308.56 L277.10,308.82 L277.33,309.08 L277.57,309.32 L277.81,309.56 L278.05,309.79 L278.29,310.00 L278.52,310.21 L278.76,310.42 L278.98,310.59 L279.20,310.76 L279.42,310.91 L279.64,311.05 L279.86,311.18 L280.08,311.30 L280.30,311.41 L280.52,311.51 L280.75,311.61 L280.97,311.69 L281.19,311.78 L281.41,311.85 L281.63,311.92 L281.85,311.98 L282.07,312.04 L282.29,312.10 L282.51,312.16 L282.73,312.21 L282.95,312.26 L283.17,312.31 L283.39,312.36 L283.61,312.41 L283.83,312.46 L284.05,312.51 L284.49,312.61 L284.93,312.70 L285.37,312.78 L285.81,312.85 L286.25,312.91 L286.69,312.96 L287.13,313.01 L287.57,313.05 L288.02,313.09 L288.46,313.12 L288.90,313.14 L289.34,313.16 L289.78,313.18 L290.22,313.20 L290.66,313.21 L291.10,313.23 L291.54,313.24 L291.98,313.26 L292.42,313.28 L292.86,313.29 L293.30,313.32 L293.74,313.34 L294.18,313.37 L294.62,313.41" fill="none" stroke="#cc1c3a" stroke-width="1.2" stroke-linejoin="round"/>
<circle cx="241.75" cy="255.40" r="1.00" fill="#cc1c3a"/>
<circle cx="262.90" cy="273.34" r="1.00" fill="#cc1c3a"/>
<circle cx="273.48" cy="302.04" r="1.00" fill="#cc1c3a"/>
<circle cx="284.05" cy="312.21" r="1.00" fill="#cc1c3a"/>
<circle cx="294.62" cy="312.81" r="1.00" fill="#cc1c3a"/>
<circle cx="304.80" cy="253.50" r="1.15" fill="#cc1c3a"/>
<g transform="translate(310.20,255.31) scale(1,1.1)"><text font-size="4.58" fill="#111" stroke="#111" stroke-width="0.1">Control oligos</text></g>
<circle cx="304.80" cy="260.80" r="1.15" fill="#000"/>
<g transform="translate(310.20,262.61) scale(1,1.1)"><text font-size="4.58" fill="#111" stroke="#111" stroke-width="0.1">MDM4_DGx2_A19_A10</text></g>
<circle cx="304.80" cy="268.10" r="1.15" fill="#000"/>
<g transform="translate(310.20,269.91) scale(1,1.1)"><text font-size="4.58" fill="#111" stroke="#111" stroke-width="0.1">MDM4_DGx2_C19_A10</text></g>
<g transform="translate(435.80,246.40) scale(1,1.1)"><text font-size="5.8" text-anchor="middle" font-weight="bold" fill="#111" stroke="#111" stroke-width="0.18">TNFAIP:</text></g>
<path d="M390.60,253.62 V317.20 H483.00" fill="none" stroke="#000" stroke-width="0.9"/>
<path d="M388.80,317.20H390.6" stroke="#000" stroke-width="0.7"/>
<g transform="translate(388.00,319.00) scale(1,1.25)"><text font-size="4.0" text-anchor="end" font-weight="bold" fill="#222">0.0</text></g>
<path d="M388.80,311.42H390.6" stroke="#000" stroke-width="0.7"/>
<g transform="translate(388.00,313.22) scale(1,1.25)"><text font-size="4.0" text-anchor="end" font-weight="bold" fill="#222">0.1</text></g>
<path d="M388.80,305.64H390.6" stroke="#000" stroke-width="0.7"/>
<g transform="translate(388.00,307.44) scale(1,1.25)"><text font-size="4.0" text-anchor="end" font-weight="bold" fill="#222">0.2</text></g>
<path d="M388.80,299.86H390.6" stroke="#000" stroke-width="0.7"/>
<g transform="translate(388.00,301.66) scale(1,1.25)"><text font-size="4.0" text-anchor="end" font-weight="bold" fill="#222">0.3</text></g>
<path d="M388.80,294.08H390.6" stroke="#000" stroke-width="0.7"/>
<g transform="translate(388.00,295.88) scale(1,1.25)"><text font-size="4.0" text-anchor="end" font-weight="bold" fill="#222">0.4</text></g>
<path d="M388.80,288.30H390.6" stroke="#000" stroke-width="0.7"/>
<g transform="translate(388.00,290.10) scale(1,1.25)"><text font-size="4.0" text-anchor="end" font-weight="bold" fill="#222">0.5</text></g>
<path d="M388.80,282.52H390.6" stroke="#000" stroke-width="0.7"/>
<g transform="translate(388.00,284.32) scale(1,1.25)"><text font-size="4.0" text-anchor="end" font-weight="bold" fill="#222">0.6</text></g>
<path d="M388.80,276.74H390.6" stroke="#000" stroke-width="0.7"/>
<g transform="translate(388.00,278.54) scale(1,1.25)"><text font-size="4.0" text-anchor="end" font-weight="bold" fill="#222">0.7</text></g>
<path d="M388.80,270.96H390.6" stroke="#000" stroke-width="0.7"/>
<g transform="translate(388.00,272.76) scale(1,1.25)"><text font-size="4.0" text-anchor="end" font-weight="bold" fill="#222">0.8</text></g>
<path d="M388.80,265.18H390.6" stroke="#000" stroke-width="0.7"/>
<g transform="translate(388.00,266.98) scale(1,1.25)"><text font-size="4.0" text-anchor="end" font-weight="bold" fill="#222">0.9</text></g>
<path d="M388.80,259.40H390.6" stroke="#000" stroke-width="0.7"/>
<g transform="translate(388.00,261.20) scale(1,1.25)"><text font-size="4.0" text-anchor="end" font-weight="bold" fill="#222">1.0</text></g>
<path d="M388.80,253.62H390.6" stroke="#000" stroke-width="0.7"/>
<g transform="translate(388.00,255.42) scale(1,1.25)"><text font-size="4.0" text-anchor="end" font-weight="bold" fill="#222">1.1</text></g>
<path d="M390.60,317.2V319.00" stroke="#000" stroke-width="0.7"/>
<g transform="translate(390.60,323.70) scale(1,1.25)"><text font-size="4.0" text-anchor="middle" font-weight="bold" fill="#222">0</text></g>
<path d="M413.70,317.2V319.00" stroke="#000" stroke-width="0.7"/>
<g transform="translate(413.70,323.70) scale(1,1.25)"><text font-size="4.0" text-anchor="middle" font-weight="bold" fill="#222">1</text></g>
<path d="M436.80,317.2V319.00" stroke="#000" stroke-width="0.7"/>
<g transform="translate(436.80,323.70) scale(1,1.25)"><text font-size="4.0" text-anchor="middle" font-weight="bold" fill="#222">2</text></g>
<path d="M459.90,317.2V319.00" stroke="#000" stroke-width="0.7"/>
<g transform="translate(459.90,323.70) scale(1,1.25)"><text font-size="4.0" text-anchor="middle" font-weight="bold" fill="#222">3</text></g>
<path d="M483.00,317.2V319.00" stroke="#000" stroke-width="0.7"/>
<g transform="translate(483.00,323.70) scale(1,1.25)"><text font-size="4.0" text-anchor="middle" font-weight="bold" fill="#222">4</text></g>
<g transform="translate(436.80,332.00) scale(1,1.1)"><text font-size="5.0" text-anchor="middle" font-weight="bold" fill="#222">Bortezomib nM</text></g>
<g transform="translate(379.10,285.30) rotate(-90) scale(1,1.0)"><text font-size="5.7" text-anchor="middle" font-weight="bold" fill="#222">Viability</text></g>
<path d="M390.60,259.40 L391.08,259.42 L391.56,259.44 L392.04,259.47 L392.53,259.48 L393.01,259.50 L393.49,259.52 L393.97,259.54 L394.45,259.56 L394.93,259.57 L395.41,259.59 L395.89,259.61 L396.38,259.63 L396.86,259.65 L397.34,259.67 L397.82,259.69 L398.30,259.71 L398.78,259.74 L399.26,259.76 L399.74,259.79 L400.23,259.82 L400.71,259.86 L401.19,259.89 L401.67,259.93 L402.15,259.98 L402.63,260.02 L403.11,260.06 L403.59,260.09 L404.08,260.12 L404.56,260.14 L405.04,260.17 L405.52,260.20 L406.00,260.23 L406.48,260.27 L406.96,260.31 L407.44,260.36 L407.93,260.41 L408.41,260.48 L408.89,260.56 L409.37,260.65 L409.85,260.76 L410.33,260.88 L410.81,261.02 L411.29,261.17 L411.78,261.35 L412.26,261.55 L412.74,261.77 L413.22,262.02 L413.70,262.29 L414.14,262.58 L414.59,262.91 L415.03,263.29 L415.47,263.70 L415.91,264.16 L416.36,264.66 L416.80,265.18 L417.24,265.74 L417.68,266.33 L418.13,266.95 L418.57,267.59 L419.01,268.25 L419.46,268.93 L419.90,269.63 L420.34,270.34 L420.78,271.07 L421.23,271.81 L421.67,272.55 L422.11,273.30 L422.56,274.05 L423.00,274.80 L423.44,275.55 L423.88,276.29 L424.33,277.03 L424.85,277.91 L425.37,278.83 L425.89,279.80 L426.41,280.79 L426.92,281.81 L427.44,282.86 L427.96,283.92 L428.48,285.01 L429.00,286.10 L429.52,287.20 L430.04,288.31 L430.56,289.41 L431.08,290.51 L431.60,291.60 L432.12,292.67 L432.64,293.73 L433.16,294.76 L433.68,295.77 L434.20,296.75 L434.72,297.69 L435.24,298.59 L435.76,299.45 L436.28,300.26 L436.80,301.02 L437.23,301.62 L437.67,302.19 L438.10,302.75 L438.53,303.29 L438.97,303.82 L439.40,304.32 L439.83,304.80 L440.27,305.26 L440.70,305.71 L441.13,306.14 L441.56,306.54 L442.00,306.94 L442.43,307.31 L442.86,307.66 L443.30,308.00 L443.73,308.32 L444.16,308.62 L444.60,308.91 L445.03,309.17 L445.46,309.42 L445.90,309.66 L446.33,309.88 L446.76,310.08 L447.20,310.26 L447.72,310.47 L448.25,310.66 L448.78,310.84 L449.31,310.99 L449.84,311.14 L450.37,311.27 L450.90,311.38 L451.43,311.48 L451.96,311.57 L452.49,311.65 L453.02,311.72 L453.55,311.78 L454.08,311.83 L454.61,311.87 L455.14,311.91 L455.67,311.93 L456.19,311.95 L456.72,311.97 L457.25,311.98 L457.78,311.99 L458.31,311.99 L458.84,312.00 L459.37,312.00 L459.90,312.00 L460.38,312.00 L460.86,312.00 L461.34,312.00 L461.83,312.00 L462.31,312.00 L462.79,312.00 L463.27,312.00 L463.75,312.00 L464.23,312.00 L464.71,312.00 L465.19,312.00 L465.68,312.00 L466.16,312.00 L466.64,312.00 L467.12,312.00 L467.60,312.00 L468.08,312.00 L468.56,312.00 L469.04,312.00 L469.53,312.00 L470.01,312.00 L470.49,312.00 L470.97,312.00 L471.45,312.00" fill="none" stroke="#000" stroke-width="1.2" stroke-linejoin="round"/>
<path d="M413.70,261.04 L414.95,263.23 L412.45,263.23Z" fill="#000"/>
<path d="M436.80,299.77 L438.05,301.95 L435.55,301.95Z" fill="#000"/>
<path d="M448.35,310.17 L449.60,312.36 L447.10,312.36Z" fill="#000"/>
<path d="M459.90,310.75 L461.15,312.94 L458.65,312.94Z" fill="#000"/>
<path d="M471.45,310.75 L472.70,312.94 L470.20,312.94Z" fill="#000"/>
<path d="M390.60,259.40 L391.14,259.51 L391.68,259.60 L392.22,259.68 L392.76,259.74 L393.30,259.80 L393.83,259.85 L394.37,259.90 L394.91,259.95 L395.45,259.99 L395.99,260.04 L396.53,260.10 L397.07,260.16 L397.61,260.23 L398.15,260.32 L398.69,260.41 L399.22,260.53 L399.76,260.66 L400.30,260.81 L400.84,260.99 L401.38,261.19 L401.92,261.42 L402.46,261.67 L403.00,261.97 L403.54,262.29 L403.97,262.57 L404.40,262.87 L404.84,263.19 L405.27,263.52 L405.70,263.87 L406.13,264.23 L406.57,264.61 L407.00,265.01 L407.43,265.42 L407.87,265.86 L408.30,266.31 L408.73,266.77 L409.17,267.26 L409.60,267.76 L410.03,268.29 L410.47,268.83 L410.90,269.39 L411.33,269.97 L411.77,270.56 L412.20,271.18 L412.63,271.82 L413.06,272.48 L413.50,273.15 L413.93,273.85 L414.28,274.44 L414.62,275.07 L414.97,275.73 L415.32,276.43 L415.66,277.17 L416.01,277.92 L416.36,278.70 L416.70,279.50 L417.05,280.32 L417.40,281.14 L417.74,281.97 L418.09,282.81 L418.44,283.65 L418.78,284.48 L419.13,285.30 L419.48,286.12 L419.82,286.92 L420.17,287.69 L420.51,288.45 L420.86,289.18 L421.21,289.88 L421.55,290.55 L421.90,291.18 L422.25,291.77 L422.85,292.74 L423.46,293.68 L424.07,294.59 L424.67,295.47 L425.28,296.32 L425.89,297.14 L426.49,297.93 L427.10,298.70 L427.70,299.44 L428.31,300.15 L428.92,300.84 L429.52,301.50 L430.13,302.14 L430.74,302.76 L431.34,303.36 L431.95,303.94 L432.56,304.50 L433.16,305.04 L433.77,305.56 L434.37,306.07 L434.98,306.56 L435.59,307.04 L436.19,307.50 L436.80,307.95 L437.28,308.29 L437.76,308.61 L438.24,308.90 L438.73,309.17 L439.21,309.42 L439.69,309.66 L440.17,309.87 L440.65,310.07 L441.13,310.25 L441.61,310.42 L442.09,310.58 L442.58,310.72 L443.06,310.86 L443.54,310.98 L444.02,311.10 L444.50,311.21 L444.98,311.32 L445.46,311.42 L445.94,311.51 L446.43,311.61 L446.91,311.70 L447.39,311.80 L447.87,311.90 L448.35,312.00 L448.83,312.10 L449.31,312.18 L449.79,312.26 L450.28,312.33 L450.76,312.40 L451.24,312.45 L451.72,312.50 L452.20,312.54 L452.68,312.58 L453.16,312.61 L453.64,312.64 L454.12,312.67 L454.61,312.69 L455.09,312.71 L455.57,312.72 L456.05,312.74 L456.53,312.75 L457.01,312.76 L457.49,312.78 L457.98,312.79 L458.46,312.81 L458.94,312.82 L459.42,312.84 L459.90,312.87 L460.38,312.89 L460.86,312.91 L461.34,312.93 L461.83,312.95 L462.31,312.96 L462.79,312.98 L463.27,312.99 L463.75,313.00 L464.23,313.02 L464.71,313.03 L465.19,313.04 L465.68,313.05 L466.16,313.05 L466.64,313.06 L467.12,313.07 L467.60,313.08 L468.08,313.09 L468.56,313.10 L469.04,313.10 L469.53,313.11 L470.01,313.12 L470.49,313.13 L470.97,313.14 L471.45,313.15" fill="none" stroke="#000" stroke-width="1.2" stroke-linejoin="round"/>
<path d="M413.70,275.10 L414.95,272.91 L412.45,272.91Z" fill="#000"/>
<path d="M436.80,307.76 L438.05,305.57 L435.55,305.57Z" fill="#000"/>
<path d="M448.35,313.83 L449.60,311.64 L447.10,311.64Z" fill="#000"/>
<path d="M459.90,314.40 L461.15,312.22 L458.65,312.22Z" fill="#000"/>
<path d="M471.45,314.40 L472.70,312.22 L470.20,312.22Z" fill="#000"/>
<path d="M390.60,259.40 L391.56,259.40 L392.53,259.40 L393.49,259.40 L394.45,259.40 L395.41,259.40 L396.38,259.40 L397.34,259.40 L398.30,259.40 L399.26,259.40 L400.23,259.40 L401.19,259.40 L402.15,259.40 L403.11,259.40 L404.08,259.40 L405.04,259.40 L406.00,259.40 L406.96,259.40 L407.93,259.40 L408.89,259.40 L409.85,259.40 L410.81,259.40 L411.78,259.40 L412.74,259.40 L413.70,259.40 L414.23,259.40 L414.76,259.41 L415.29,259.42 L415.82,259.44 L416.35,259.47 L416.88,259.50 L417.41,259.55 L417.94,259.61 L418.46,259.69 L418.99,259.78 L419.52,259.89 L420.05,260.01 L420.58,260.16 L421.11,260.33 L421.64,260.52 L422.17,260.73 L422.70,260.97 L423.23,261.23 L423.76,261.52 L424.29,261.84 L424.82,262.19 L425.35,262.58 L425.88,262.99 L426.41,263.45 L426.82,263.81 L427.23,264.17 L427.65,264.53 L428.06,264.90 L428.47,265.27 L428.89,265.65 L429.30,266.04 L429.72,266.45 L430.13,266.88 L430.54,267.33 L430.96,267.81 L431.37,268.32 L431.79,268.86 L432.20,269.43 L432.61,270.05 L433.03,270.71 L433.44,271.41 L433.85,272.16 L434.27,272.97 L434.68,273.83 L435.10,274.75 L435.51,275.73 L435.92,276.78 L436.34,277.90 L436.54,278.49 L436.74,279.14 L436.94,279.85 L437.15,280.61 L437.35,281.41 L437.55,282.25 L437.75,283.13 L437.96,284.03 L438.16,284.95 L438.36,285.89 L438.56,286.85 L438.76,287.81 L438.97,288.77 L439.17,289.72 L439.37,290.67 L439.57,291.60 L439.77,292.50 L439.98,293.39 L440.18,294.24 L440.38,295.05 L440.58,295.83 L440.78,296.55 L440.99,297.22 L441.19,297.84 L441.49,298.67 L441.79,299.46 L442.08,300.21 L442.38,300.91 L442.68,301.58 L442.98,302.20 L443.28,302.79 L443.58,303.35 L443.87,303.88 L444.17,304.38 L444.47,304.85 L444.77,305.30 L445.07,305.73 L445.37,306.14 L445.66,306.53 L445.96,306.91 L446.26,307.28 L446.56,307.63 L446.86,307.98 L447.16,308.32 L447.45,308.66 L447.75,309.00 L448.05,309.34 L448.35,309.69 L448.64,310.01 L448.93,310.32 L449.22,310.61 L449.50,310.89 L449.79,311.15 L450.08,311.40 L450.37,311.64 L450.66,311.86 L450.95,312.07 L451.24,312.27 L451.53,312.45 L451.82,312.63 L452.10,312.80 L452.39,312.97 L452.68,313.12 L452.97,313.27 L453.26,313.41 L453.55,313.55 L453.84,313.68 L454.12,313.81 L454.41,313.94 L454.70,314.06 L454.99,314.19 L455.28,314.31 L455.47,314.39 L455.67,314.46 L455.86,314.53 L456.05,314.59 L456.24,314.65 L456.44,314.71 L456.63,314.76 L456.82,314.80 L457.01,314.84 L457.21,314.88 L457.40,314.92 L457.59,314.95 L457.78,314.98 L457.98,315.00 L458.17,315.03 L458.36,315.05 L458.55,315.07 L458.75,315.09 L458.94,315.10 L459.13,315.12 L459.32,315.13 L459.52,315.15 L459.71,315.16 L459.90,315.18 L460.38,315.21 L460.86,315.24 L461.34,315.27 L461.83,315.29 L462.31,315.31 L462.79,315.33 L463.27,315.35 L463.75,315.36 L464.23,315.37 L464.71,315.39 L465.19,315.39 L465.68,315.40 L466.16,315.41 L466.64,315.41 L467.12,315.42 L467.60,315.42 L468.08,315.43 L468.56,315.43 L469.04,315.44 L469.53,315.44 L470.01,315.45 L470.49,315.45 L470.97,315.46 L471.45,315.47" fill="none" stroke="#cc1c3a" stroke-width="1.2" stroke-linejoin="round"/>
<circle cx="413.70" cy="259.40" r="1.00" fill="#cc1c3a"/>
<circle cx="436.80" cy="277.90" r="1.00" fill="#cc1c3a"/>
<circle cx="448.35" cy="308.53" r="1.00" fill="#cc1c3a"/>
<circle cx="459.90" cy="314.89" r="1.00" fill="#cc1c3a"/>
<circle cx="471.45" cy="314.89" r="1.00" fill="#cc1c3a"/>
<circle cx="465.70" cy="258.00" r="1.15" fill="#cc1c3a"/>
<g transform="translate(471.50,260.00) scale(1,1.1)"><text font-size="5.05" fill="#111" stroke="#111" stroke-width="0.1">Controls</text></g>
<path d="M465.70,264.01 L467.14,266.53 L464.26,266.53Z" fill="#000"/>
<g transform="translate(471.50,267.45) scale(1,1.1)"><text font-size="5.05" fill="#111" stroke="#111" stroke-width="0.1">TNFAIP3siRNA A3</text></g>
<path d="M465.70,274.34 L467.14,271.82 L464.26,271.82Z" fill="#000"/>
<g transform="translate(471.50,274.90) scale(1,1.1)"><text font-size="5.05" fill="#111" stroke="#111" stroke-width="0.1">TNFAIP3siRNA D3</text></g>
</svg>
</body></html>
